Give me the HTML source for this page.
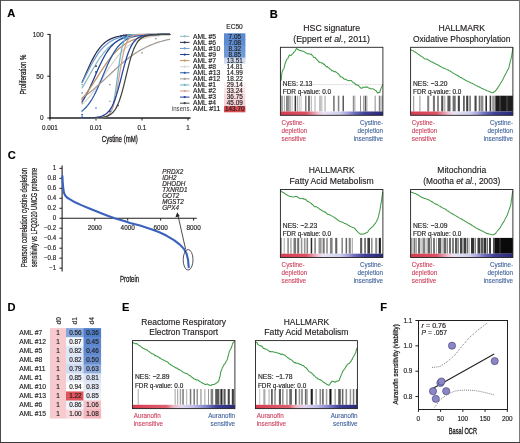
<!DOCTYPE html>
<html><head><meta charset="utf-8"><style>
html,body{margin:0;padding:0;background:#fff;}
svg{display:block;font-family:"Liberation Sans", sans-serif;filter:blur(0.3px);}
</style></head><body>
<svg width="520" height="443" viewBox="0 0 520 443">
<rect x="0" y="0" width="520" height="443" fill="#fff"/>
<rect x="0" y="0" width="520" height="1" fill="#5c5c5c"/>
<rect x="0" y="0" width="1" height="443" fill="#4a4a4a"/>
<rect x="519" y="0" width="1" height="443" fill="#7a7a7a"/>
<rect x="0" y="442" width="520" height="1" fill="#3a3a3a"/>
<text x="7.20" y="17.20" font-size="11.10" font-weight="bold" fill="#000" stroke="#000" stroke-width="0.15">A</text>
<text x="269.70" y="17.80" font-size="11.10" font-weight="bold" fill="#000" stroke="#000" stroke-width="0.15">B</text>
<text x="7.70" y="159.20" font-size="11.10" font-weight="bold" fill="#000" stroke="#000" stroke-width="0.15">C</text>
<text x="7.40" y="310.60" font-size="11.10" font-weight="bold" fill="#000" stroke="#000" stroke-width="0.15">D</text>
<text x="122.00" y="310.60" font-size="11.10" font-weight="bold" fill="#000" stroke="#000" stroke-width="0.15">E</text>
<text x="380.30" y="310.70" font-size="11.10" font-weight="bold" fill="#000" stroke="#000" stroke-width="0.15">F</text>
<line x1="50.00" y1="34.00" x2="50.00" y2="118.60" stroke="#231f20" stroke-width="1.3"/>
<line x1="49.40" y1="118.00" x2="190.50" y2="118.00" stroke="#231f20" stroke-width="1.3"/>
<line x1="47.30" y1="34.40" x2="50.00" y2="34.40" stroke="#231f20" stroke-width="1"/>
<text x="43.60" y="36.70" font-size="7.15" text-anchor="end" fill="#231f20" stroke="#231f20" stroke-width="0.17" textLength="10.85" lengthAdjust="spacingAndGlyphs">100</text>
<line x1="47.30" y1="76.20" x2="50.00" y2="76.20" stroke="#231f20" stroke-width="1"/>
<text x="43.60" y="78.50" font-size="7.15" text-anchor="end" fill="#231f20" stroke="#231f20" stroke-width="0.17" textLength="7.23" lengthAdjust="spacingAndGlyphs">50</text>
<line x1="47.30" y1="118.00" x2="50.00" y2="118.00" stroke="#231f20" stroke-width="1"/>
<text x="43.60" y="120.30" font-size="7.15" text-anchor="end" fill="#231f20" stroke="#231f20" stroke-width="0.17" textLength="3.62" lengthAdjust="spacingAndGlyphs">0</text>
<line x1="50.00" y1="118.00" x2="50.00" y2="120.50" stroke="#231f20" stroke-width="1"/>
<text x="50.00" y="129.80" font-size="6.93" text-anchor="middle" fill="#231f20" stroke="#231f20" stroke-width="0.17" textLength="15.77" lengthAdjust="spacingAndGlyphs">0.001</text>
<line x1="96.00" y1="118.00" x2="96.00" y2="120.50" stroke="#231f20" stroke-width="1"/>
<text x="96.00" y="129.80" font-size="6.93" text-anchor="middle" fill="#231f20" stroke="#231f20" stroke-width="0.17" textLength="12.26" lengthAdjust="spacingAndGlyphs">0.01</text>
<line x1="142.00" y1="118.00" x2="142.00" y2="120.50" stroke="#231f20" stroke-width="1"/>
<text x="142.00" y="129.80" font-size="6.93" text-anchor="middle" fill="#231f20" stroke="#231f20" stroke-width="0.17" textLength="8.76" lengthAdjust="spacingAndGlyphs">0.1</text>
<line x1="188.00" y1="118.00" x2="188.00" y2="120.50" stroke="#231f20" stroke-width="1"/>
<text x="188.00" y="129.80" font-size="6.93" text-anchor="middle" fill="#231f20" stroke="#231f20" stroke-width="0.17" textLength="3.50" lengthAdjust="spacingAndGlyphs">1</text>
<text x="119.80" y="142.30" font-size="8.30" text-anchor="middle" fill="#231f20" stroke="#231f20" stroke-width="0.3" textLength="36.00" lengthAdjust="spacingAndGlyphs">Cystine (mM)</text>
<text transform="translate(25.9,74.5) rotate(-90)" font-size="8.2" text-anchor="middle" fill="#231f20" stroke="#231f20" stroke-width="0.28" textLength="40" lengthAdjust="spacingAndGlyphs">Proliferation %</text>
<polyline points="82.15,87.84 83.64,85.36 85.12,82.82 86.60,80.23 88.09,77.60 89.57,74.96 91.06,72.33 92.54,69.74 94.02,67.19 95.51,64.71 96.99,62.31 98.47,60.02 99.96,57.83 101.44,55.76 102.93,53.82 104.41,52.00 105.89,50.31 107.38,48.74 108.86,47.31 110.34,45.99 111.83,44.78 113.31,43.69 114.80,42.70 116.28,41.80 117.76,40.99 119.25,40.26 120.73,39.61 122.21,39.03 123.70,38.51 125.18,38.04 126.67,37.62 128.15,37.26 129.63,36.93 131.12,36.64 132.60,36.38 134.08,36.15 135.57,35.94 137.05,35.76 138.54,35.60 140.02,35.46 141.50,35.34 142.99,35.23 144.47,35.13 145.95,35.04 147.44,34.97 148.92,34.90 150.41,34.84 151.89,34.79 153.37,34.74 154.86,34.70 156.34,34.67 157.82,34.64 159.31,34.61 160.79,34.58 162.28,34.56 163.76,34.54 165.24,34.53 166.73,34.51 168.21,34.50 169.69,34.49" fill="none" stroke="#8fb9c0" stroke-width="1.25" stroke-linejoin="round" stroke-linecap="round"/>
<polyline points="82.15,82.18 83.64,78.81 85.12,75.39 86.60,71.99 88.09,68.65 89.57,65.40 91.06,62.29 92.54,59.34 94.02,56.57 95.51,54.02 96.99,51.67 98.47,49.54 99.96,47.62 101.44,45.90 102.93,44.37 104.41,43.02 105.89,41.84 107.38,40.80 108.86,39.90 110.34,39.12 111.83,38.44 113.31,37.86 114.80,37.36 116.28,36.92 117.76,36.55 119.25,36.24 120.73,35.96 122.21,35.73 123.70,35.53 125.18,35.36 126.67,35.22 128.15,35.10 129.63,34.99 131.12,34.90 132.60,34.83 134.08,34.76 135.57,34.71 137.05,34.66 138.54,34.62 140.02,34.59 141.50,34.56 142.99,34.54 144.47,34.52 145.95,34.50 147.44,34.48 148.92,34.47 150.41,34.46 151.89,34.45 153.37,34.44 154.86,34.44 156.34,34.43 157.82,34.43 159.31,34.42 160.79,34.42 162.28,34.42 163.76,34.41 165.24,34.41 166.73,34.41 168.21,34.41 169.69,34.41" fill="none" stroke="#2b2f4e" stroke-width="1.25" stroke-linejoin="round" stroke-linecap="round"/>
<polyline points="82.15,82.72 83.64,79.81 85.12,76.87 86.60,73.93 88.09,71.00 89.57,68.13 91.06,65.33 92.54,62.64 94.02,60.06 95.51,57.62 96.99,55.33 98.47,53.19 99.96,51.22 101.44,49.40 102.93,47.74 104.41,46.24 105.89,44.87 107.38,43.65 108.86,42.55 110.34,41.57 111.83,40.70 113.31,39.92 114.80,39.24 116.28,38.63 117.76,38.10 119.25,37.63 120.73,37.22 122.21,36.86 123.70,36.55 125.18,36.27 126.67,36.03 128.15,35.82 129.63,35.63 131.12,35.47 132.60,35.33 134.08,35.21 135.57,35.11 137.05,35.01 138.54,34.93 140.02,34.86 141.50,34.80 142.99,34.75 144.47,34.70 145.95,34.66 147.44,34.63 148.92,34.60 150.41,34.57 151.89,34.55 153.37,34.53 154.86,34.51 156.34,34.50 157.82,34.49 159.31,34.47 160.79,34.46 162.28,34.46 163.76,34.45 165.24,34.44 166.73,34.44 168.21,34.43 169.69,34.43" fill="none" stroke="#6d9ed6" stroke-width="1.25" stroke-linejoin="round" stroke-linecap="round"/>
<polyline points="82.15,101.62 83.64,99.36 85.12,96.89 86.60,94.21 88.09,91.33 89.57,88.28 91.06,85.08 92.54,81.77 94.02,78.39 95.51,74.98 96.99,71.58 98.47,68.25 99.96,65.01 101.44,61.92 102.93,58.99 104.41,56.25 105.89,53.72 107.38,51.40 108.86,49.29 110.34,47.40 111.83,45.70 113.31,44.20 114.80,42.87 116.28,41.70 117.76,40.69 119.25,39.80 120.73,39.03 122.21,38.37 123.70,37.79 125.18,37.30 126.67,36.87 128.15,36.51 129.63,36.20 131.12,35.93 132.60,35.71 134.08,35.51 135.57,35.35 137.05,35.20 138.54,35.08 140.02,34.98 141.50,34.89 142.99,34.82 144.47,34.76 145.95,34.70 147.44,34.66 148.92,34.62 150.41,34.59 151.89,34.56 153.37,34.53 154.86,34.51 156.34,34.50 157.82,34.48 159.31,34.47 160.79,34.46 162.28,34.45 163.76,34.44 165.24,34.44 166.73,34.43 168.21,34.43 169.69,34.42" fill="none" stroke="#1d3f8f" stroke-width="1.25" stroke-linejoin="round" stroke-linecap="round"/>
<polyline points="82.15,98.39 83.64,96.67 85.12,94.85 86.60,92.94 88.09,90.94 89.57,88.87 91.06,86.72 92.54,84.51 94.02,82.25 95.51,79.95 96.99,77.63 98.47,75.31 99.96,72.98 101.44,70.68 102.93,68.41 104.41,66.19 105.89,64.03 107.38,61.93 108.86,59.91 110.34,57.98 111.83,56.14 113.31,54.40 114.80,52.75 116.28,51.21 117.76,49.76 119.25,48.41 120.73,47.16 122.21,46.00 123.70,44.93 125.18,43.95 126.67,43.05 128.15,42.22 129.63,41.47 131.12,40.78 132.60,40.15 134.08,39.58 135.57,39.07 137.05,38.60 138.54,38.18 140.02,37.80 141.50,37.45 142.99,37.14 144.47,36.86 145.95,36.61 147.44,36.38 148.92,36.18 150.41,35.99 151.89,35.83 153.37,35.68 154.86,35.55 156.34,35.43 157.82,35.32 159.31,35.22 160.79,35.14 162.28,35.06 163.76,34.99 165.24,34.93 166.73,34.87 168.21,34.82 169.69,34.78" fill="none" stroke="#c4915e" stroke-width="1.25" stroke-linejoin="round" stroke-linecap="round"/>
<polyline points="82.15,104.28 83.64,102.95 85.12,101.53 86.60,100.01 88.09,98.38 89.57,96.66 91.06,94.84 92.54,92.93 94.02,90.93 95.51,88.86 96.99,86.71 98.47,84.50 99.96,82.24 101.44,79.94 102.93,77.62 104.41,75.29 105.89,72.97 107.38,70.67 108.86,68.40 110.34,66.18 111.83,64.02 113.31,61.92 114.80,59.91 116.28,57.97 117.76,56.14 119.25,54.39 120.73,52.75 122.21,51.20 123.70,49.76 125.18,48.41 126.67,47.16 128.15,46.00 129.63,44.93 131.12,43.95 132.60,43.04 134.08,42.22 135.57,41.46 137.05,40.78 138.54,40.15 140.02,39.58 141.50,39.07 142.99,38.60 144.47,38.18 145.95,37.79 147.44,37.45 148.92,37.14 150.41,36.86 151.89,36.61 153.37,36.38 154.86,36.17 156.34,35.99 157.82,35.83 159.31,35.68 160.79,35.55 162.28,35.43 163.76,35.32 165.24,35.22 166.73,35.14 168.21,35.06 169.69,34.99" fill="none" stroke="#d9d6d2" stroke-width="1.25" stroke-linejoin="round" stroke-linecap="round"/>
<polyline points="82.15,110.84 83.64,109.64 85.12,108.26 86.60,106.70 88.09,104.92 89.57,102.92 91.06,100.70 92.54,98.23 94.02,95.54 95.51,92.63 96.99,89.51 98.47,86.22 99.96,82.80 101.44,79.28 102.93,75.71 104.41,72.15 105.89,68.65 107.38,65.26 108.86,62.02 110.34,58.95 111.83,56.10 113.31,53.47 114.80,51.07 116.28,48.91 117.76,46.97 119.25,45.25 120.73,43.74 122.21,42.41 123.70,41.26 125.18,40.26 126.67,39.39 128.15,38.65 129.63,38.01 131.12,37.46 132.60,37.00 134.08,36.60 135.57,36.26 137.05,35.98 138.54,35.73 140.02,35.53 141.50,35.35 142.99,35.20 144.47,35.08 145.95,34.97 147.44,34.88 148.92,34.81 150.41,34.74 151.89,34.69 153.37,34.64 154.86,34.61 156.34,34.57 157.82,34.55 159.31,34.52 160.79,34.50 162.28,34.49 163.76,34.47 165.24,34.46 166.73,34.45 168.21,34.44 169.69,34.44" fill="none" stroke="#2a5aa8" stroke-width="1.25" stroke-linejoin="round" stroke-linecap="round"/>
<polyline points="82.15,98.09 83.64,97.06 85.12,95.99 86.60,94.89 88.09,93.76 89.57,92.59 91.06,91.39 92.54,90.17 94.02,88.91 95.51,87.63 96.99,86.33 98.47,85.00 99.96,83.66 101.44,82.30 102.93,80.92 104.41,79.54 105.89,78.15 107.38,76.75 108.86,75.36 110.34,73.96 111.83,72.57 113.31,71.19 114.80,69.82 116.28,68.46 117.76,67.12 119.25,65.80 120.73,64.50 122.21,63.22 123.70,61.98 125.18,60.75 126.67,59.56 128.15,58.40 129.63,57.28 131.12,56.18 132.60,55.12 134.08,54.10 135.57,53.11 137.05,52.16 138.54,51.24 140.02,50.36 141.50,49.51 142.99,48.70 144.47,47.93 145.95,47.19 147.44,46.48 148.92,45.81 150.41,45.16 151.89,44.55 153.37,43.97 154.86,43.42 156.34,42.89 157.82,42.40 159.31,41.93 160.79,41.48 162.28,41.06 163.76,40.66 165.24,40.29 166.73,39.93 168.21,39.59 169.69,39.28" fill="none" stroke="#a39a93" stroke-width="1.25" stroke-linejoin="round" stroke-linecap="round"/>
<polyline points="82.15,118.00 83.64,118.00 85.12,118.00 86.60,118.00 88.09,118.00 89.57,118.00 91.06,118.00 92.54,117.99 94.02,117.99 95.51,117.98 96.99,117.96 98.47,117.94 99.96,117.89 101.44,117.80 102.93,117.66 104.41,117.40 105.89,116.96 107.38,116.20 108.86,114.91 110.34,112.75 111.83,109.25 113.31,103.83 114.80,96.04 116.28,85.94 117.76,74.48 119.25,63.28 120.73,53.81 122.21,46.74 123.70,41.95 125.18,38.90 126.67,37.04 128.15,35.93 129.63,35.28 131.12,34.91 132.60,34.69 134.08,34.57 135.57,34.50 137.05,34.46 138.54,34.43 140.02,34.42 141.50,34.41 142.99,34.41 144.47,34.40 145.95,34.40 147.44,34.40 148.92,34.40 150.41,34.40 151.89,34.40 153.37,34.40 154.86,34.40 156.34,34.40 157.82,34.40 159.31,34.40 160.79,34.40 162.28,34.40 163.76,34.40 165.24,34.40 166.73,34.40 168.21,34.40 169.69,34.40" fill="none" stroke="#6fb6c2" stroke-width="1.25" stroke-linejoin="round" stroke-linecap="round"/>
<polyline points="82.15,118.00 83.64,118.00 85.12,118.00 86.60,118.00 88.09,117.99 89.57,117.99 91.06,117.98 92.54,117.97 94.02,117.96 95.51,117.93 96.99,117.90 98.47,117.84 99.96,117.75 101.44,117.60 102.93,117.38 104.41,117.04 105.89,116.51 107.38,115.69 108.86,114.45 110.34,112.59 111.83,109.85 113.31,105.93 114.80,100.57 116.28,93.63 117.76,85.30 119.25,76.14 120.73,66.98 122.21,58.66 123.70,51.75 125.18,46.41 126.67,42.51 128.15,39.78 129.63,37.93 131.12,36.69 132.60,35.88 134.08,35.36 135.57,35.01 137.05,34.79 138.54,34.65 140.02,34.56 141.50,34.50 142.99,34.47 144.47,34.44 145.95,34.43 147.44,34.42 148.92,34.41 150.41,34.41 151.89,34.40 153.37,34.40 154.86,34.40 156.34,34.40 157.82,34.40 159.31,34.40 160.79,34.40 162.28,34.40 163.76,34.40 165.24,34.40 166.73,34.40 168.21,34.40 169.69,34.40" fill="none" stroke="#d3a08e" stroke-width="1.25" stroke-linejoin="round" stroke-linecap="round"/>
<polyline points="82.15,117.95 83.64,117.94 85.12,117.92 86.60,117.89 88.09,117.86 89.57,117.81 91.06,117.75 92.54,117.67 94.02,117.56 95.51,117.42 96.99,117.23 98.47,116.98 99.96,116.66 101.44,116.23 102.93,115.67 104.41,114.93 105.89,113.98 107.38,112.75 108.86,111.18 110.34,109.19 111.83,106.71 113.31,103.66 114.80,99.99 116.28,95.68 117.76,90.78 119.25,85.36 120.73,79.61 122.21,73.72 123.70,67.93 125.18,62.45 126.67,57.46 128.15,53.05 129.63,49.28 131.12,46.14 132.60,43.57 134.08,41.50 135.57,39.87 137.05,38.59 138.54,37.60 140.02,36.84 141.50,36.25 142.99,35.80 144.47,35.46 145.95,35.20 147.44,35.01 148.92,34.86 150.41,34.75 151.89,34.66 153.37,34.60 154.86,34.55 156.34,34.51 157.82,34.48 159.31,34.46 160.79,34.45 162.28,34.44 163.76,34.43 165.24,34.42 166.73,34.42 168.21,34.41 169.69,34.41" fill="none" stroke="#2442a0" stroke-width="1.25" stroke-linejoin="round" stroke-linecap="round"/>
<polyline points="82.15,117.99 83.64,117.98 85.12,117.98 86.60,117.97 88.09,117.96 89.57,117.94 91.06,117.92 92.54,117.90 94.02,117.86 95.51,117.82 96.99,117.75 98.47,117.67 99.96,117.55 101.44,117.40 102.93,117.19 104.41,116.92 105.89,116.55 107.38,116.06 108.86,115.41 110.34,114.55 111.83,113.42 113.31,111.95 114.80,110.05 116.28,107.64 117.76,104.63 119.25,100.95 120.73,96.56 122.21,91.50 123.70,85.86 125.18,79.81 126.67,73.62 128.15,67.53 129.63,61.81 131.12,56.64 132.60,52.14 134.08,48.34 135.57,45.22 137.05,42.71 138.54,40.74 140.02,39.20 141.50,38.02 142.99,37.12 144.47,36.44 145.95,35.92 147.44,35.54 148.92,35.25 150.41,35.03 151.89,34.87 153.37,34.75 154.86,34.66 156.34,34.59 157.82,34.54 159.31,34.51 160.79,34.48 162.28,34.46 163.76,34.44 165.24,34.43 166.73,34.42 168.21,34.42 169.69,34.41" fill="none" stroke="#3f4640" stroke-width="1.25" stroke-linejoin="round" stroke-linecap="round"/>
<circle cx="82.15" cy="84.56" r="0.9" fill="#8fb9c0"/>
<circle cx="82.15" cy="92.92" r="0.9" fill="#6d9ed6"/>
<circle cx="82.15" cy="99.61" r="0.9" fill="#c4915e"/>
<circle cx="82.15" cy="102.95" r="0.9" fill="#a39a93"/>
<circle cx="82.15" cy="111.31" r="0.9" fill="#6fb6c2"/>
<circle cx="82.15" cy="114.66" r="0.9" fill="#2a5aa8"/>
<circle cx="82.15" cy="117.16" r="0.9" fill="#2442a0"/>
<circle cx="96.00" cy="66.17" r="0.9" fill="#2b2f4e"/>
<circle cx="96.00" cy="72.02" r="0.9" fill="#1d3f8f"/>
<circle cx="96.00" cy="107.97" r="0.9" fill="#6d9ed6"/>
<circle cx="109.85" cy="101.28" r="0.9" fill="#8fb9c0"/>
<circle cx="109.85" cy="111.31" r="0.9" fill="#2442a0"/>
<circle cx="121.03" cy="36.07" r="0.9" fill="#2b2f4e"/>
<circle cx="123.69" cy="35.24" r="0.9" fill="#1d3f8f"/>
<circle cx="126.05" cy="35.24" r="0.9" fill="#2b2f4e"/>
<circle cx="117.95" cy="105.46" r="0.9" fill="#3f4640"/>
<circle cx="109.85" cy="84.56" r="0.9" fill="#a39a93"/>
<circle cx="142.00" cy="52.79" r="0.9" fill="#a39a93"/>
<circle cx="155.85" cy="38.58" r="0.9" fill="#a39a93"/>
<circle cx="123.69" cy="37.74" r="0.9" fill="#6d9ed6"/>
<text x="234.50" y="29.30" font-size="7.26" text-anchor="middle" fill="#231f20" stroke="#231f20" stroke-width="0.17" textLength="16.51" lengthAdjust="spacingAndGlyphs">EC50</text>
<rect x="224" y="33.26" width="21.4" height="6.78" fill="#5b8bd0"/>
<rect x="224" y="39.34" width="21.4" height="6.78" fill="#5b8bd0"/>
<rect x="224" y="45.42" width="21.4" height="6.78" fill="#6a96d4"/>
<rect x="224" y="51.50" width="21.4" height="6.78" fill="#6f9ad6"/>
<rect x="224" y="57.58" width="21.4" height="6.78" fill="#cfdcf0"/>
<rect x="224" y="63.66" width="21.4" height="6.78" fill="#ffffff"/>
<rect x="224" y="69.74" width="21.4" height="6.78" fill="#ffffff"/>
<rect x="224" y="75.82" width="21.4" height="6.78" fill="#ffffff"/>
<rect x="224" y="81.90" width="21.4" height="6.78" fill="#fcf0f1"/>
<rect x="224" y="87.98" width="21.4" height="6.78" fill="#f9e3e5"/>
<rect x="224" y="94.06" width="21.4" height="6.78" fill="#f7dadd"/>
<rect x="224" y="100.14" width="21.4" height="6.78" fill="#f5d2d6"/>
<rect x="224" y="106.22" width="21.4" height="6.08" fill="#d8484f"/>
<line x1="180.00" y1="36.30" x2="189.50" y2="36.30" stroke="#8fb9c0" stroke-width="1"/>
<circle cx="184.7" cy="36.30" r="1.1" fill="#8fb9c0"/>
<text x="193.00" y="38.50" font-size="6.93" fill="#231f20" stroke="#231f20" stroke-width="0.17" textLength="23.00" lengthAdjust="spacingAndGlyphs">AML #5</text>
<text x="234.80" y="38.50" font-size="7.04" text-anchor="middle" fill="#231f20" stroke="#231f20" stroke-width="0.17" textLength="12.46" lengthAdjust="spacingAndGlyphs">7.05</text>
<line x1="180.00" y1="42.38" x2="189.50" y2="42.38" stroke="#2b2f4e" stroke-width="1"/>
<circle cx="184.7" cy="42.38" r="1.1" fill="#2b2f4e"/>
<text x="193.00" y="44.58" font-size="6.93" fill="#231f20" stroke="#231f20" stroke-width="0.17" textLength="23.00" lengthAdjust="spacingAndGlyphs">AML #6</text>
<text x="234.80" y="44.58" font-size="7.04" text-anchor="middle" fill="#231f20" stroke="#231f20" stroke-width="0.17" textLength="12.46" lengthAdjust="spacingAndGlyphs">7.08</text>
<line x1="180.00" y1="48.46" x2="189.50" y2="48.46" stroke="#6d9ed6" stroke-width="1"/>
<circle cx="184.7" cy="48.46" r="1.1" fill="#6d9ed6"/>
<text x="193.00" y="50.66" font-size="6.93" fill="#231f20" stroke="#231f20" stroke-width="0.17" textLength="27.40" lengthAdjust="spacingAndGlyphs">AML #10</text>
<text x="234.80" y="50.66" font-size="7.04" text-anchor="middle" fill="#231f20" stroke="#231f20" stroke-width="0.17" textLength="12.46" lengthAdjust="spacingAndGlyphs">8.32</text>
<line x1="180.00" y1="54.54" x2="189.50" y2="54.54" stroke="#1d3f8f" stroke-width="1"/>
<circle cx="184.7" cy="54.54" r="1.1" fill="#1d3f8f"/>
<text x="193.00" y="56.74" font-size="6.93" fill="#231f20" stroke="#231f20" stroke-width="0.17" textLength="23.00" lengthAdjust="spacingAndGlyphs">AML #9</text>
<text x="234.80" y="56.74" font-size="7.04" text-anchor="middle" fill="#231f20" stroke="#231f20" stroke-width="0.17" textLength="12.46" lengthAdjust="spacingAndGlyphs">8.85</text>
<line x1="180.00" y1="60.62" x2="189.50" y2="60.62" stroke="#c4915e" stroke-width="1"/>
<circle cx="184.7" cy="60.62" r="1.1" fill="#c4915e"/>
<text x="193.00" y="62.82" font-size="6.93" fill="#231f20" stroke="#231f20" stroke-width="0.17" textLength="23.00" lengthAdjust="spacingAndGlyphs">AML #7</text>
<text x="234.80" y="62.82" font-size="7.04" text-anchor="middle" fill="#231f20" stroke="#231f20" stroke-width="0.17" textLength="16.02" lengthAdjust="spacingAndGlyphs">13.51</text>
<line x1="180.00" y1="66.70" x2="189.50" y2="66.70" stroke="#d9d6d2" stroke-width="1"/>
<circle cx="184.7" cy="66.70" r="1.1" fill="#d9d6d2"/>
<text x="193.00" y="68.90" font-size="6.93" fill="#231f20" stroke="#231f20" stroke-width="0.17" textLength="23.00" lengthAdjust="spacingAndGlyphs">AML #8</text>
<text x="234.80" y="68.90" font-size="7.04" text-anchor="middle" fill="#231f20" stroke="#231f20" stroke-width="0.17" textLength="16.02" lengthAdjust="spacingAndGlyphs">14.81</text>
<line x1="180.00" y1="72.78" x2="189.50" y2="72.78" stroke="#2a5aa8" stroke-width="1"/>
<circle cx="184.7" cy="72.78" r="1.1" fill="#2a5aa8"/>
<text x="193.00" y="74.98" font-size="6.93" fill="#231f20" stroke="#231f20" stroke-width="0.17" textLength="27.40" lengthAdjust="spacingAndGlyphs">AML #13</text>
<text x="234.80" y="74.98" font-size="7.04" text-anchor="middle" fill="#231f20" stroke="#231f20" stroke-width="0.17" textLength="16.02" lengthAdjust="spacingAndGlyphs">14.99</text>
<line x1="180.00" y1="78.86" x2="189.50" y2="78.86" stroke="#a39a93" stroke-width="1"/>
<circle cx="184.7" cy="78.86" r="1.1" fill="#a39a93"/>
<text x="193.00" y="81.06" font-size="6.93" fill="#231f20" stroke="#231f20" stroke-width="0.17" textLength="27.40" lengthAdjust="spacingAndGlyphs">AML #12</text>
<text x="234.80" y="81.06" font-size="7.04" text-anchor="middle" fill="#231f20" stroke="#231f20" stroke-width="0.17" textLength="16.02" lengthAdjust="spacingAndGlyphs">18.22</text>
<line x1="180.00" y1="84.94" x2="189.50" y2="84.94" stroke="#6fb6c2" stroke-width="1"/>
<circle cx="184.7" cy="84.94" r="1.1" fill="#6fb6c2"/>
<text x="193.00" y="87.14" font-size="6.93" fill="#231f20" stroke="#231f20" stroke-width="0.17" textLength="23.00" lengthAdjust="spacingAndGlyphs">AML #1</text>
<text x="234.80" y="87.14" font-size="7.04" text-anchor="middle" fill="#231f20" stroke="#231f20" stroke-width="0.17" textLength="16.02" lengthAdjust="spacingAndGlyphs">29.14</text>
<line x1="180.00" y1="91.02" x2="189.50" y2="91.02" stroke="#d3a08e" stroke-width="1"/>
<circle cx="184.7" cy="91.02" r="1.1" fill="#d3a08e"/>
<text x="193.00" y="93.22" font-size="6.93" fill="#231f20" stroke="#231f20" stroke-width="0.17" textLength="23.00" lengthAdjust="spacingAndGlyphs">AML #2</text>
<text x="234.80" y="93.22" font-size="7.04" text-anchor="middle" fill="#231f20" stroke="#231f20" stroke-width="0.17" textLength="16.02" lengthAdjust="spacingAndGlyphs">33.24</text>
<line x1="180.00" y1="97.10" x2="189.50" y2="97.10" stroke="#2442a0" stroke-width="1"/>
<circle cx="184.7" cy="97.10" r="1.1" fill="#2442a0"/>
<text x="193.00" y="99.30" font-size="6.93" fill="#231f20" stroke="#231f20" stroke-width="0.17" textLength="23.00" lengthAdjust="spacingAndGlyphs">AML #3</text>
<text x="234.80" y="99.30" font-size="7.04" text-anchor="middle" fill="#231f20" stroke="#231f20" stroke-width="0.17" textLength="16.02" lengthAdjust="spacingAndGlyphs">36.75</text>
<line x1="180.00" y1="103.18" x2="189.50" y2="103.18" stroke="#3f4640" stroke-width="1"/>
<circle cx="184.7" cy="103.18" r="1.1" fill="#3f4640"/>
<text x="193.00" y="105.38" font-size="6.93" fill="#231f20" stroke="#231f20" stroke-width="0.17" textLength="23.00" lengthAdjust="spacingAndGlyphs">AML #4</text>
<text x="234.80" y="105.38" font-size="7.04" text-anchor="middle" fill="#231f20" stroke="#231f20" stroke-width="0.17" textLength="16.02" lengthAdjust="spacingAndGlyphs">45.09</text>
<text x="193.00" y="111.46" font-size="6.93" fill="#231f20" stroke="#231f20" stroke-width="0.17" textLength="27.40" lengthAdjust="spacingAndGlyphs">AML #11</text>
<text x="234.80" y="111.46" font-size="7.04" text-anchor="middle" fill="#231f20" stroke="#231f20" stroke-width="0.17" textLength="19.58" lengthAdjust="spacingAndGlyphs">143.70</text>
<text x="191.20" y="111.46" font-size="6.71" text-anchor="end" fill="#3a3a3a" textLength="19.33" lengthAdjust="spacingAndGlyphs">insens.</text>
<text x="331.65" y="31.20" font-size="9.62" text-anchor="middle" fill="#231f20" stroke="#231f20" stroke-width="0.17" textLength="56.80" lengthAdjust="spacingAndGlyphs">HSC signature</text>
<text x="331.65" y="41.60" font-size="9.62" text-anchor="middle" fill="#231f20" stroke="#231f20" stroke-width="0.17" textLength="76.70" lengthAdjust="spacingAndGlyphs">(Eppert <tspan font-style="italic">et al.</tspan>, 2011)</text>
<rect x="280.60" y="95.70" width="1.00" height="15.80" fill="rgb(100,100,100)"/>
<rect x="282.20" y="95.70" width="0.80" height="15.80" fill="rgb(150,150,150)"/>
<rect x="283.80" y="95.70" width="1.20" height="15.80" fill="rgb(180,180,180)"/>
<rect x="286.00" y="95.70" width="1.00" height="15.80" fill="rgb(130,130,130)"/>
<rect x="287.30" y="95.70" width="1.20" height="15.80" fill="rgb(90,90,90)"/>
<rect x="288.60" y="95.70" width="0.90" height="15.80" fill="rgb(110,110,110)"/>
<rect x="290.30" y="95.70" width="0.80" height="15.80" fill="rgb(150,150,150)"/>
<rect x="291.80" y="95.70" width="0.80" height="15.80" fill="rgb(185,185,185)"/>
<rect x="294.60" y="95.70" width="1.50" height="15.80" fill="rgb(50,50,50)"/>
<rect x="297.20" y="95.70" width="1.00" height="15.80" fill="rgb(150,150,150)"/>
<rect x="299.00" y="95.70" width="0.80" height="15.80" fill="rgb(200,200,200)"/>
<rect x="300.60" y="95.70" width="0.90" height="15.80" fill="rgb(185,185,185)"/>
<rect x="305.00" y="95.70" width="1.50" height="15.80" fill="rgb(130,130,130)"/>
<rect x="308.00" y="95.70" width="1.00" height="15.80" fill="rgb(110,110,110)"/>
<rect x="309.20" y="95.70" width="0.90" height="15.80" fill="rgb(90,90,90)"/>
<rect x="311.00" y="95.70" width="1.00" height="15.80" fill="rgb(190,190,190)"/>
<rect x="314.30" y="95.70" width="1.50" height="15.80" fill="rgb(200,200,200)"/>
<rect x="319.50" y="95.70" width="1.00" height="15.80" fill="rgb(130,130,130)"/>
<rect x="321.40" y="95.70" width="0.90" height="15.80" fill="rgb(170,170,170)"/>
<rect x="324.30" y="95.70" width="1.50" height="15.80" fill="rgb(190,190,190)"/>
<rect x="333.10" y="95.70" width="1.60" height="15.80" fill="rgb(120,120,120)"/>
<rect x="337.80" y="95.70" width="1.50" height="15.80" fill="rgb(130,130,130)"/>
<rect x="342.50" y="95.70" width="1.50" height="15.80" fill="rgb(90,90,90)"/>
<rect x="352.80" y="95.70" width="1.40" height="15.80" fill="rgb(140,140,140)"/>
<rect x="354.40" y="95.70" width="1.00" height="15.80" fill="rgb(170,170,170)"/>
<rect x="360.00" y="95.70" width="1.00" height="15.80" fill="rgb(140,140,140)"/>
<rect x="363.20" y="95.70" width="1.10" height="15.80" fill="rgb(150,150,150)"/>
<rect x="364.80" y="95.70" width="1.50" height="15.80" fill="rgb(90,90,90)"/>
<rect x="366.50" y="95.70" width="0.90" height="15.80" fill="rgb(160,160,160)"/>
<rect x="374.60" y="95.70" width="1.10" height="15.80" fill="rgb(150,150,150)"/>
<rect x="378.80" y="95.70" width="1.20" height="15.80" fill="rgb(130,130,130)"/>
<rect x="380.30" y="95.70" width="0.70" height="15.80" fill="rgb(170,170,170)"/>
<rect x="381.60" y="95.70" width="0.80" height="15.80" fill="rgb(120,120,120)"/>
<defs><linearGradient id="g1" x1="0" x2="1" y1="0" y2="0"><stop offset="0" stop-color="#d43c50"/><stop offset="0.25" stop-color="#dc5264"/><stop offset="0.29" stop-color="#e07888"/><stop offset="0.37" stop-color="#f0c4d4"/><stop offset="0.42" stop-color="#e8e4f4"/><stop offset="0.58" stop-color="#d0d0ee"/><stop offset="0.65" stop-color="#a8a8dc"/><stop offset="0.72" stop-color="#7070c0"/><stop offset="0.82" stop-color="#404098"/><stop offset="1" stop-color="#282878"/></linearGradient></defs>
<rect x="280.40" y="111.50" width="102.50" height="3.80" fill="url(#g1)"/>
<line x1="280.40" y1="84.60" x2="382.90" y2="84.60" stroke="#b8b8b8" stroke-width="0.6" stroke-dasharray="1,0.6"/>
<polyline points="280.60,81.00 281.10,80.04 281.20,79.06 281.30,79.24 281.40,77.76 281.50,76.07 281.60,75.46 281.70,74.66 281.80,74.04 281.90,72.82 282.00,72.55 282.10,71.62 282.20,71.58 282.70,70.46 283.20,69.35 283.70,68.82 284.20,67.91 284.45,66.18 284.70,65.47 284.95,64.00 285.20,63.60 285.75,61.91 286.30,60.84 286.70,59.53 287.10,58.91 287.50,58.67 288.13,58.07 288.77,56.55 289.40,54.97 291.00,55.57 291.75,54.69 292.50,53.90 293.02,53.65 293.55,52.31 294.08,52.13 294.60,51.84 295.30,50.74 296.00,49.30 296.70,48.39 297.60,49.47 298.50,49.64 299.65,50.54 300.80,50.74 301.90,50.89 303.00,51.13 304.00,51.62 305.00,52.21 306.00,52.92 307.00,53.67 308.00,53.69 308.80,53.62 309.60,53.93 310.40,54.21 311.20,54.10 311.96,55.15 312.72,55.63 313.48,57.32 314.24,57.45 315.00,57.34 315.75,58.41 316.50,59.12 317.25,60.19 318.00,60.75 318.75,62.12 319.50,62.02 320.29,62.55 321.07,62.78 321.86,63.11 322.64,62.99 323.43,64.18 324.21,64.07 325.00,65.15 325.82,66.07 326.63,66.83 327.45,66.61 328.27,67.79 329.08,68.04 329.90,68.92 330.75,69.27 331.60,70.75 332.45,70.69 333.30,71.02 334.15,71.66 335.00,71.45 335.88,72.00 336.77,72.65 337.65,73.48 338.53,73.91 339.42,75.36 340.30,76.51 341.08,77.02 341.87,76.95 342.65,77.39 343.43,78.51 344.22,79.22 345.00,79.33 345.81,79.06 346.63,79.85 347.44,80.36 348.26,80.54 349.07,80.74 349.89,80.51 350.70,80.50 351.58,80.81 352.47,81.92 353.35,82.75 354.23,83.04 355.12,83.63 356.00,84.94 356.85,84.75 357.70,85.20 358.55,85.31 359.40,87.04 360.25,87.20 361.10,88.33 362.07,88.13 363.03,87.26 364.00,87.22 365.10,87.09 366.20,87.11 367.30,86.97 368.20,87.66 369.10,88.26 370.00,88.22 370.88,88.95 371.75,88.83 372.62,88.67 373.50,89.14 374.34,89.59 375.18,90.21 376.02,90.63 376.86,92.02 377.70,93.11 378.75,92.20 379.80,92.36 380.13,91.24 380.47,89.92 380.80,88.65 381.13,88.20 381.47,87.35 381.80,86.65 382.50,85.00" fill="none" stroke="#3f9c46" stroke-width="1.05" stroke-linejoin="round" stroke-linecap="round"/>
<rect x="280.40" y="47.30" width="102.50" height="68.00" fill="none" stroke="#231f20" stroke-width="0.9"/>
<text x="282.80" y="85.70" font-size="7.04" fill="#231f20" stroke="#231f20" stroke-width="0.17" textLength="29.57" lengthAdjust="spacingAndGlyphs">NES: 2.13</text>
<text x="282.80" y="94.20" font-size="7.04" fill="#231f20" stroke="#231f20" stroke-width="0.17" textLength="48.38" lengthAdjust="spacingAndGlyphs">FDR q-value: 0.0</text>
<text x="281.60" y="124.90" font-size="6.93" fill="#cc3d5a" stroke="#cc3d5a" stroke-width="0.1" textLength="23.11" lengthAdjust="spacingAndGlyphs">Cystine-</text>
<text x="281.60" y="132.70" font-size="6.93" fill="#cc3d5a" stroke="#cc3d5a" stroke-width="0.1" textLength="25.57" lengthAdjust="spacingAndGlyphs">depletion</text>
<text x="281.60" y="140.50" font-size="6.93" fill="#cc3d5a" stroke="#cc3d5a" stroke-width="0.1" textLength="24.51" lengthAdjust="spacingAndGlyphs">sensitive</text>
<text x="383.10" y="124.90" font-size="6.93" text-anchor="end" fill="#3b5f98" stroke="#3b5f98" stroke-width="0.1" textLength="23.11" lengthAdjust="spacingAndGlyphs">Cystine-</text>
<text x="383.10" y="132.70" font-size="6.93" text-anchor="end" fill="#3b5f98" stroke="#3b5f98" stroke-width="0.1" textLength="25.57" lengthAdjust="spacingAndGlyphs">depletion</text>
<text x="383.10" y="140.50" font-size="6.93" text-anchor="end" fill="#3b5f98" stroke="#3b5f98" stroke-width="0.1" textLength="29.42" lengthAdjust="spacingAndGlyphs">insensitive</text>
<text x="461.75" y="31.20" font-size="9.62" text-anchor="middle" fill="#231f20" stroke="#231f20" stroke-width="0.17" textLength="46.50" lengthAdjust="spacingAndGlyphs">HALLMARK</text>
<text x="461.75" y="41.60" font-size="9.62" text-anchor="middle" fill="#231f20" stroke="#231f20" stroke-width="0.17" textLength="97.40" lengthAdjust="spacingAndGlyphs">Oxidative Phosphorylation</text>
<rect x="413.20" y="95.70" width="1.00" height="15.80" fill="rgb(140,140,140)"/>
<rect x="419.40" y="95.70" width="1.00" height="15.80" fill="rgb(150,150,150)"/>
<rect x="427.20" y="95.70" width="2.00" height="15.80" fill="rgb(130,130,130)"/>
<rect x="432.90" y="95.70" width="2.10" height="15.80" fill="rgb(120,120,120)"/>
<rect x="437.00" y="95.70" width="2.00" height="15.80" fill="rgb(140,140,140)"/>
<rect x="441.20" y="95.70" width="2.10" height="15.80" fill="rgb(80,80,80)"/>
<rect x="444.30" y="95.70" width="1.00" height="15.80" fill="rgb(150,150,150)"/>
<rect x="447.40" y="95.70" width="3.10" height="15.80" fill="rgb(90,90,90)"/>
<rect x="452.60" y="95.70" width="3.10" height="15.80" fill="rgb(110,110,110)"/>
<rect x="457.80" y="95.70" width="2.10" height="15.80" fill="rgb(70,70,70)"/>
<rect x="463.10" y="95.70" width="1.60" height="15.80" fill="rgb(80,80,80)"/>
<rect x="466.20" y="95.70" width="2.10" height="15.80" fill="rgb(60,60,60)"/>
<rect x="469.30" y="95.70" width="1.60" height="15.80" fill="rgb(120,120,120)"/>
<rect x="474.50" y="95.70" width="2.10" height="15.80" fill="rgb(70,70,70)"/>
<rect x="478.70" y="95.70" width="1.80" height="15.80" fill="rgb(110,110,110)"/>
<rect x="481.00" y="95.70" width="2.40" height="15.80" fill="rgb(140,140,140)"/>
<rect x="485.40" y="95.70" width="1.60" height="15.80" fill="rgb(50,50,50)"/>
<rect x="489.60" y="95.70" width="1.60" height="15.80" fill="rgb(60,60,60)"/>
<rect x="492.20" y="95.70" width="2.60" height="15.80" fill="rgb(150,150,150)"/>
<rect x="495.30" y="95.70" width="3.70" height="15.80" fill="rgb(30,30,30)"/>
<rect x="499.00" y="95.70" width="2.00" height="15.80" fill="rgb(60,60,60)"/>
<rect x="501.00" y="95.70" width="5.00" height="15.80" fill="rgb(25,25,25)"/>
<rect x="506.00" y="95.70" width="2.00" height="15.80" fill="rgb(55,55,55)"/>
<rect x="508.00" y="95.70" width="4.90" height="15.80" fill="rgb(30,30,30)"/>
<defs><linearGradient id="g2" x1="0" x2="1" y1="0" y2="0"><stop offset="0" stop-color="#d43c50"/><stop offset="0.25" stop-color="#dc5264"/><stop offset="0.29" stop-color="#e07888"/><stop offset="0.37" stop-color="#f0c4d4"/><stop offset="0.42" stop-color="#e8e4f4"/><stop offset="0.58" stop-color="#d0d0ee"/><stop offset="0.65" stop-color="#a8a8dc"/><stop offset="0.72" stop-color="#7070c0"/><stop offset="0.82" stop-color="#404098"/><stop offset="1" stop-color="#282878"/></linearGradient></defs>
<rect x="410.60" y="111.50" width="102.30" height="3.80" fill="url(#g2)"/>
<polyline points="410.60,49.80 411.47,50.17 412.33,50.53 413.20,50.81 413.94,51.43 414.69,51.77 415.43,52.20 416.17,52.64 416.91,53.13 417.66,53.89 418.40,54.46 419.17,54.84 419.95,55.28 420.73,55.99 421.50,56.35 422.27,56.84 423.05,57.46 423.83,58.13 424.60,58.74 425.44,58.93 426.28,59.08 427.12,59.33 427.96,59.79 428.80,60.19 429.60,60.77 430.40,61.25 431.20,61.74 432.00,61.95 432.80,62.24 433.60,62.72 434.40,63.23 435.20,63.56 436.00,64.19 436.80,64.37 437.60,64.85 438.40,65.20 439.20,65.75 440.06,66.26 440.92,66.65 441.77,67.13 442.63,67.71 443.49,67.98 444.35,68.32 445.21,68.66 446.07,69.12 446.93,69.49 447.78,69.79 448.64,70.44 449.50,70.77 450.30,71.05 451.10,71.75 451.90,72.15 452.70,72.79 453.50,73.44 454.30,73.76 455.10,74.13 455.90,74.81 456.70,75.08 457.50,75.48 458.30,75.97 459.10,76.45 459.90,77.18 460.77,77.60 461.63,77.82 462.50,78.52 463.37,79.01 464.23,79.39 465.10,80.03 465.97,80.47 466.83,80.90 467.70,81.16 468.57,81.56 469.43,82.17 470.30,82.60 471.17,82.92 472.03,83.15 472.90,83.69 473.77,84.15 474.63,84.70 475.50,85.16 476.37,85.64 477.23,86.00 478.10,86.43 478.97,86.76 479.83,87.22 480.70,87.69 481.59,88.14 482.47,88.45 483.36,88.96 484.24,89.37 485.13,89.69 486.01,90.19 486.90,90.74 487.93,91.03 488.97,91.60 490.00,91.94 491.07,92.35 492.13,92.67 493.20,92.71 493.97,91.92 494.73,91.49 495.50,90.88 496.05,90.08 496.60,89.41 497.15,88.68 497.70,87.91 498.25,87.00 498.80,86.41 499.34,85.20 499.88,84.50 500.42,83.53 500.96,82.76 501.50,81.84 502.00,80.97 502.50,80.24 503.00,79.19 503.50,78.03 504.00,77.16 504.50,76.07 504.92,75.31 505.34,74.49 505.76,73.81 506.18,72.94 506.60,72.19 507.02,71.17 507.44,70.44 507.86,69.60 508.28,68.90 508.70,68.30 508.93,67.32 509.17,66.38 509.40,65.22 509.63,64.18 509.87,63.48 510.10,62.25 510.33,61.32 510.57,60.47 510.80,59.64 511.03,58.58 511.27,57.64 511.50,56.77 511.64,55.99 511.79,55.01 511.93,54.01 512.08,53.23 512.22,52.37 512.37,51.31 512.51,50.41 512.66,49.45 512.80,48.50" fill="none" stroke="#3f9c46" stroke-width="1.05" stroke-linejoin="round" stroke-linecap="round"/>
<rect x="410.60" y="47.30" width="102.30" height="68.00" fill="none" stroke="#231f20" stroke-width="0.9"/>
<text x="413.00" y="85.70" font-size="7.04" fill="#231f20" stroke="#231f20" stroke-width="0.17" textLength="34.51" lengthAdjust="spacingAndGlyphs">NES: −3.20</text>
<text x="413.00" y="94.20" font-size="7.04" fill="#231f20" stroke="#231f20" stroke-width="0.17" textLength="48.38" lengthAdjust="spacingAndGlyphs">FDR q-value: 0.0</text>
<text x="411.80" y="124.90" font-size="6.93" fill="#cc3d5a" stroke="#cc3d5a" stroke-width="0.1" textLength="23.11" lengthAdjust="spacingAndGlyphs">Cystine-</text>
<text x="411.80" y="132.70" font-size="6.93" fill="#cc3d5a" stroke="#cc3d5a" stroke-width="0.1" textLength="25.57" lengthAdjust="spacingAndGlyphs">depletion</text>
<text x="411.80" y="140.50" font-size="6.93" fill="#cc3d5a" stroke="#cc3d5a" stroke-width="0.1" textLength="24.51" lengthAdjust="spacingAndGlyphs">sensitive</text>
<text x="513.10" y="124.90" font-size="6.93" text-anchor="end" fill="#3b5f98" stroke="#3b5f98" stroke-width="0.1" textLength="23.11" lengthAdjust="spacingAndGlyphs">Cystine-</text>
<text x="513.10" y="132.70" font-size="6.93" text-anchor="end" fill="#3b5f98" stroke="#3b5f98" stroke-width="0.1" textLength="25.57" lengthAdjust="spacingAndGlyphs">depletion</text>
<text x="513.10" y="140.50" font-size="6.93" text-anchor="end" fill="#3b5f98" stroke="#3b5f98" stroke-width="0.1" textLength="29.42" lengthAdjust="spacingAndGlyphs">insensitive</text>
<text x="331.65" y="173.40" font-size="9.62" text-anchor="middle" fill="#231f20" stroke="#231f20" stroke-width="0.17" textLength="46.00" lengthAdjust="spacingAndGlyphs">HALLMARK</text>
<text x="331.65" y="183.80" font-size="9.62" text-anchor="middle" fill="#231f20" stroke="#231f20" stroke-width="0.17" textLength="84.10" lengthAdjust="spacingAndGlyphs">Fatty Acid Metabolism</text>
<rect x="280.60" y="237.90" width="1.00" height="15.80" fill="rgb(90,90,90)"/>
<rect x="283.70" y="237.90" width="1.00" height="15.80" fill="rgb(170,170,170)"/>
<rect x="287.30" y="237.90" width="1.60" height="15.80" fill="rgb(140,140,140)"/>
<rect x="290.40" y="237.90" width="1.10" height="15.80" fill="rgb(140,140,140)"/>
<rect x="293.50" y="237.90" width="2.60" height="15.80" fill="rgb(120,120,120)"/>
<rect x="297.20" y="237.90" width="2.00" height="15.80" fill="rgb(110,110,110)"/>
<rect x="300.80" y="237.90" width="1.60" height="15.80" fill="rgb(150,150,150)"/>
<rect x="303.90" y="237.90" width="1.60" height="15.80" fill="rgb(150,150,150)"/>
<rect x="306.50" y="237.90" width="1.60" height="15.80" fill="rgb(130,130,130)"/>
<rect x="310.70" y="237.90" width="1.50" height="15.80" fill="rgb(40,40,40)"/>
<rect x="314.30" y="237.90" width="1.60" height="15.80" fill="rgb(130,130,130)"/>
<rect x="318.50" y="237.90" width="3.10" height="15.80" fill="rgb(150,150,150)"/>
<rect x="322.60" y="237.90" width="2.10" height="15.80" fill="rgb(120,120,120)"/>
<rect x="326.20" y="237.90" width="1.60" height="15.80" fill="rgb(140,140,140)"/>
<rect x="329.90" y="237.90" width="1.50" height="15.80" fill="rgb(140,140,140)"/>
<rect x="330.50" y="237.90" width="2.10" height="15.80" fill="rgb(130,130,130)"/>
<rect x="335.20" y="237.90" width="2.10" height="15.80" fill="rgb(100,100,100)"/>
<rect x="341.40" y="237.90" width="1.60" height="15.80" fill="rgb(140,140,140)"/>
<rect x="345.60" y="237.90" width="1.50" height="15.80" fill="rgb(100,100,100)"/>
<rect x="348.70" y="237.90" width="2.10" height="15.80" fill="rgb(130,130,130)"/>
<rect x="351.80" y="237.90" width="1.00" height="15.80" fill="rgb(160,160,160)"/>
<rect x="360.10" y="237.90" width="2.10" height="15.80" fill="rgb(90,90,90)"/>
<rect x="364.30" y="237.90" width="1.50" height="15.80" fill="rgb(90,90,90)"/>
<rect x="367.40" y="237.90" width="2.60" height="15.80" fill="rgb(60,60,60)"/>
<rect x="371.00" y="237.90" width="1.60" height="15.80" fill="rgb(150,150,150)"/>
<rect x="375.20" y="237.90" width="2.00" height="15.80" fill="rgb(140,140,140)"/>
<rect x="378.80" y="237.90" width="2.10" height="15.80" fill="rgb(30,30,30)"/>
<defs><linearGradient id="g3" x1="0" x2="1" y1="0" y2="0"><stop offset="0" stop-color="#d43c50"/><stop offset="0.25" stop-color="#dc5264"/><stop offset="0.29" stop-color="#e07888"/><stop offset="0.37" stop-color="#f0c4d4"/><stop offset="0.42" stop-color="#e8e4f4"/><stop offset="0.58" stop-color="#d0d0ee"/><stop offset="0.65" stop-color="#a8a8dc"/><stop offset="0.72" stop-color="#7070c0"/><stop offset="0.82" stop-color="#404098"/><stop offset="1" stop-color="#282878"/></linearGradient></defs>
<rect x="280.40" y="253.70" width="102.50" height="3.80" fill="url(#g3)"/>
<polyline points="280.60,190.50 281.10,191.42 281.88,191.83 282.65,192.25 283.43,192.45 284.20,193.13 284.98,193.77 285.75,194.20 286.52,194.68 287.30,194.92 288.37,195.72 289.43,196.14 290.50,196.39 291.53,196.65 292.57,196.81 293.60,196.91 294.63,196.69 295.67,196.56 296.70,196.51 297.52,197.06 298.34,197.56 299.16,197.93 299.98,198.43 300.80,198.68 301.85,198.54 302.90,198.57 303.95,199.17 305.00,199.12 305.84,199.72 306.68,200.50 307.52,201.41 308.36,201.59 309.20,202.13 309.99,202.63 310.78,203.13 311.58,203.78 312.37,204.52 313.16,205.12 313.95,206.11 314.75,206.65 315.54,206.57 316.33,206.67 317.12,207.18 317.92,207.67 318.71,208.44 319.50,208.99 320.30,209.57 321.10,209.94 321.90,210.45 322.70,210.93 323.50,211.30 324.30,211.87 325.10,212.00 325.90,212.76 326.70,213.33 327.50,214.34 328.30,214.53 329.10,214.54 329.90,214.92 330.70,215.43 331.50,215.80 332.30,216.12 333.10,216.68 333.90,217.00 334.70,217.90 335.50,218.09 336.30,218.82 337.10,219.53 337.90,220.04 338.70,220.73 339.50,221.13 340.30,221.66 341.17,221.77 342.03,221.93 342.90,222.35 343.77,222.91 344.63,223.59 345.50,223.72 346.37,224.09 347.23,224.45 348.10,225.17 348.97,225.49 349.83,226.20 350.70,226.50 351.47,226.87 352.25,227.30 353.02,227.57 353.80,227.75 354.57,228.49 355.35,229.10 356.12,230.27 356.90,230.83 357.52,231.65 358.14,232.27 358.76,232.86 359.38,233.23 360.00,233.77 361.03,234.23 362.07,234.11 363.10,234.05 364.05,233.91 365.00,233.48 366.15,232.74 367.30,232.47 367.87,231.69 368.43,230.79 369.00,229.97 369.83,229.00 370.67,228.30 371.50,227.59 372.25,226.94 373.00,226.41 373.80,225.07 374.60,224.11 375.30,223.41 376.00,222.28 376.43,221.51 376.85,220.61 377.27,219.78 377.70,219.11 377.93,218.02 378.17,217.43 378.40,216.74 378.63,215.93 378.87,214.66 379.10,213.32 379.33,212.42 379.57,211.65 379.80,210.79 379.95,209.84 380.11,208.93 380.26,207.93 380.42,207.15 380.57,205.88 380.72,205.10 380.88,204.27 381.03,203.18 381.18,203.01 381.34,201.83 381.49,200.74 381.65,199.41 381.80,198.52 381.93,197.66 382.06,196.96 382.19,195.86 382.31,195.16 382.44,193.88 382.57,193.03 382.70,192.20" fill="none" stroke="#3f9c46" stroke-width="1.05" stroke-linejoin="round" stroke-linecap="round"/>
<rect x="280.40" y="189.50" width="102.50" height="68.00" fill="none" stroke="#231f20" stroke-width="0.9"/>
<text x="282.80" y="227.90" font-size="7.04" fill="#231f20" stroke="#231f20" stroke-width="0.17" textLength="34.51" lengthAdjust="spacingAndGlyphs">NES: −2.23</text>
<text x="282.80" y="236.40" font-size="7.04" fill="#231f20" stroke="#231f20" stroke-width="0.17" textLength="48.38" lengthAdjust="spacingAndGlyphs">FDR q-value: 0.0</text>
<text x="281.60" y="267.10" font-size="6.93" fill="#cc3d5a" stroke="#cc3d5a" stroke-width="0.1" textLength="23.11" lengthAdjust="spacingAndGlyphs">Cystine-</text>
<text x="281.60" y="274.90" font-size="6.93" fill="#cc3d5a" stroke="#cc3d5a" stroke-width="0.1" textLength="25.57" lengthAdjust="spacingAndGlyphs">depletion</text>
<text x="281.60" y="282.70" font-size="6.93" fill="#cc3d5a" stroke="#cc3d5a" stroke-width="0.1" textLength="24.51" lengthAdjust="spacingAndGlyphs">sensitive</text>
<text x="383.10" y="267.10" font-size="6.93" text-anchor="end" fill="#3b5f98" stroke="#3b5f98" stroke-width="0.1" textLength="23.11" lengthAdjust="spacingAndGlyphs">Cystine-</text>
<text x="383.10" y="274.90" font-size="6.93" text-anchor="end" fill="#3b5f98" stroke="#3b5f98" stroke-width="0.1" textLength="25.57" lengthAdjust="spacingAndGlyphs">depletion</text>
<text x="383.10" y="282.70" font-size="6.93" text-anchor="end" fill="#3b5f98" stroke="#3b5f98" stroke-width="0.1" textLength="29.42" lengthAdjust="spacingAndGlyphs">insensitive</text>
<text x="461.75" y="173.40" font-size="9.62" text-anchor="middle" fill="#231f20" stroke="#231f20" stroke-width="0.17" textLength="49.00" lengthAdjust="spacingAndGlyphs">Mitochondria</text>
<text x="461.75" y="183.80" font-size="9.62" text-anchor="middle" fill="#231f20" stroke="#231f20" stroke-width="0.17" textLength="77.20" lengthAdjust="spacingAndGlyphs">(Mootha <tspan font-style="italic">et al.</tspan>, 2003)</text>
<rect x="410.80" y="237.90" width="1.70" height="15.80" fill="rgb(150,150,150)"/>
<rect x="413.50" y="237.90" width="2.00" height="15.80" fill="rgb(120,120,120)"/>
<rect x="416.00" y="237.90" width="1.00" height="15.80" fill="rgb(170,170,170)"/>
<rect x="418.00" y="237.90" width="2.00" height="15.80" fill="rgb(110,110,110)"/>
<rect x="420.50" y="237.90" width="1.00" height="15.80" fill="rgb(160,160,160)"/>
<rect x="422.50" y="237.90" width="2.50" height="15.80" fill="rgb(130,130,130)"/>
<rect x="425.50" y="237.90" width="1.00" height="15.80" fill="rgb(170,170,170)"/>
<rect x="427.50" y="237.90" width="2.50" height="15.80" fill="rgb(100,100,100)"/>
<rect x="430.50" y="237.90" width="1.50" height="15.80" fill="rgb(140,140,140)"/>
<rect x="433.00" y="237.90" width="2.00" height="15.80" fill="rgb(120,120,120)"/>
<rect x="436.00" y="237.90" width="1.00" height="15.80" fill="rgb(170,170,170)"/>
<rect x="438.00" y="237.90" width="3.00" height="15.80" fill="rgb(90,90,90)"/>
<rect x="441.50" y="237.90" width="1.00" height="15.80" fill="rgb(150,150,150)"/>
<rect x="443.50" y="237.90" width="2.50" height="15.80" fill="rgb(100,100,100)"/>
<rect x="446.50" y="237.90" width="1.50" height="15.80" fill="rgb(140,140,140)"/>
<rect x="449.00" y="237.90" width="2.00" height="15.80" fill="rgb(110,110,110)"/>
<rect x="452.00" y="237.90" width="2.00" height="15.80" fill="rgb(130,130,130)"/>
<rect x="455.00" y="237.90" width="2.50" height="15.80" fill="rgb(90,90,90)"/>
<rect x="458.00" y="237.90" width="1.00" height="15.80" fill="rgb(150,150,150)"/>
<rect x="460.00" y="237.90" width="2.50" height="15.80" fill="rgb(70,70,70)"/>
<rect x="463.50" y="237.90" width="2.50" height="15.80" fill="rgb(60,60,60)"/>
<rect x="466.50" y="237.90" width="1.50" height="15.80" fill="rgb(110,110,110)"/>
<rect x="468.50" y="237.90" width="1.00" height="15.80" fill="rgb(150,150,150)"/>
<rect x="471.00" y="237.90" width="3.00" height="15.80" fill="rgb(50,50,50)"/>
<rect x="474.50" y="237.90" width="1.50" height="15.80" fill="rgb(120,120,120)"/>
<rect x="477.50" y="237.90" width="2.50" height="15.80" fill="rgb(60,60,60)"/>
<rect x="480.50" y="237.90" width="2.50" height="15.80" fill="rgb(90,90,90)"/>
<rect x="483.50" y="237.90" width="2.50" height="15.80" fill="rgb(50,50,50)"/>
<rect x="486.50" y="237.90" width="1.50" height="15.80" fill="rgb(110,110,110)"/>
<rect x="489.00" y="237.90" width="2.00" height="15.80" fill="rgb(60,60,60)"/>
<rect x="493.00" y="237.90" width="2.00" height="15.80" fill="rgb(80,80,80)"/>
<rect x="495.00" y="237.90" width="4.00" height="15.80" fill="rgb(15,15,15)"/>
<rect x="499.00" y="237.90" width="2.00" height="15.80" fill="rgb(40,40,40)"/>
<rect x="501.00" y="237.90" width="11.90" height="15.80" fill="rgb(10,10,10)"/>
<defs><linearGradient id="g4" x1="0" x2="1" y1="0" y2="0"><stop offset="0" stop-color="#d43c50"/><stop offset="0.25" stop-color="#dc5264"/><stop offset="0.29" stop-color="#e07888"/><stop offset="0.37" stop-color="#f0c4d4"/><stop offset="0.42" stop-color="#e8e4f4"/><stop offset="0.58" stop-color="#d0d0ee"/><stop offset="0.65" stop-color="#a8a8dc"/><stop offset="0.72" stop-color="#7070c0"/><stop offset="0.82" stop-color="#404098"/><stop offset="1" stop-color="#282878"/></linearGradient></defs>
<rect x="410.60" y="253.70" width="102.30" height="3.80" fill="url(#g4)"/>
<polyline points="410.60,191.80 411.55,192.39 412.50,192.58 413.45,192.89 414.40,193.14 415.35,193.42 416.30,193.99 417.19,194.46 418.07,194.92 418.96,195.54 419.84,196.20 420.73,196.71 421.61,197.20 422.50,197.50 423.40,198.00 424.30,198.40 425.20,198.57 426.10,198.87 427.00,199.35 427.90,199.61 428.80,199.92 429.60,200.31 430.40,200.90 431.20,201.27 432.00,201.73 432.80,202.26 433.60,202.83 434.40,203.33 435.20,203.77 436.00,204.18 436.80,204.32 437.60,204.78 438.40,205.36 439.20,205.85 439.99,206.23 440.78,206.77 441.58,207.21 442.37,207.69 443.16,208.13 443.95,208.50 444.75,208.84 445.54,209.26 446.33,209.82 447.12,210.75 447.92,210.94 448.71,211.53 449.50,212.14 450.30,212.67 451.10,213.10 451.90,213.56 452.70,214.04 453.50,214.43 454.30,214.85 455.10,215.34 455.90,215.83 456.70,216.34 457.50,216.71 458.30,217.36 459.10,217.87 459.90,218.25 460.70,218.54 461.50,218.93 462.30,219.45 463.10,219.98 463.90,220.41 464.70,221.06 465.50,221.38 466.30,222.08 467.10,222.33 467.90,222.95 468.70,223.31 469.50,223.65 470.30,224.21 471.10,224.74 471.90,225.27 472.70,225.86 473.50,226.31 474.30,226.67 475.10,227.23 475.90,227.88 476.70,228.41 477.50,228.66 478.30,229.07 479.10,229.54 479.90,230.04 480.70,230.31 481.59,230.73 482.47,231.11 483.36,231.46 484.24,232.19 485.13,232.61 486.01,233.02 486.90,233.47 487.79,233.61 488.67,233.87 489.56,234.11 490.44,234.31 491.33,234.48 492.21,234.74 493.10,234.90 494.15,234.31 495.20,233.82 495.80,233.11 496.40,232.26 497.00,231.53 497.60,230.72 498.20,230.00 498.80,229.34 499.40,228.73 499.91,228.11 500.42,227.31 500.94,226.30 501.45,225.44 501.96,224.38 502.48,223.62 502.99,222.81 503.50,222.14 503.92,221.40 504.34,220.71 504.76,219.88 505.18,218.86 505.60,218.03 506.02,217.50 506.44,216.68 506.86,215.86 507.28,214.99 507.70,213.83 508.01,212.95 508.32,212.07 508.63,211.05 508.94,210.14 509.25,209.37 509.56,208.46 509.87,207.54 510.18,206.56 510.49,205.66 510.80,204.79 510.93,203.88 511.05,202.85 511.18,201.90 511.31,200.87 511.43,200.19 511.56,199.31 511.69,198.56 511.81,197.74 511.94,196.63 512.07,195.73 512.19,194.90 512.32,193.75 512.45,192.96 512.57,192.10 512.70,191.20" fill="none" stroke="#3f9c46" stroke-width="1.05" stroke-linejoin="round" stroke-linecap="round"/>
<rect x="410.60" y="189.50" width="102.30" height="68.00" fill="none" stroke="#231f20" stroke-width="0.9"/>
<text x="413.00" y="227.90" font-size="7.04" fill="#231f20" stroke="#231f20" stroke-width="0.17" textLength="34.51" lengthAdjust="spacingAndGlyphs">NES: −3.09</text>
<text x="413.00" y="236.40" font-size="7.04" fill="#231f20" stroke="#231f20" stroke-width="0.17" textLength="48.38" lengthAdjust="spacingAndGlyphs">FDR q-value: 0.0</text>
<text x="411.80" y="267.10" font-size="6.93" fill="#cc3d5a" stroke="#cc3d5a" stroke-width="0.1" textLength="23.11" lengthAdjust="spacingAndGlyphs">Cystine-</text>
<text x="411.80" y="274.90" font-size="6.93" fill="#cc3d5a" stroke="#cc3d5a" stroke-width="0.1" textLength="25.57" lengthAdjust="spacingAndGlyphs">depletion</text>
<text x="411.80" y="282.70" font-size="6.93" fill="#cc3d5a" stroke="#cc3d5a" stroke-width="0.1" textLength="24.51" lengthAdjust="spacingAndGlyphs">sensitive</text>
<text x="513.10" y="267.10" font-size="6.93" text-anchor="end" fill="#3b5f98" stroke="#3b5f98" stroke-width="0.1" textLength="23.11" lengthAdjust="spacingAndGlyphs">Cystine-</text>
<text x="513.10" y="274.90" font-size="6.93" text-anchor="end" fill="#3b5f98" stroke="#3b5f98" stroke-width="0.1" textLength="25.57" lengthAdjust="spacingAndGlyphs">depletion</text>
<text x="513.10" y="282.70" font-size="6.93" text-anchor="end" fill="#3b5f98" stroke="#3b5f98" stroke-width="0.1" textLength="29.42" lengthAdjust="spacingAndGlyphs">insensitive</text>
<text x="183.70" y="324.50" font-size="9.62" text-anchor="middle" fill="#231f20" stroke="#231f20" stroke-width="0.17" textLength="84.70" lengthAdjust="spacingAndGlyphs">Reactome Respiratory</text>
<text x="183.70" y="334.90" font-size="9.62" text-anchor="middle" fill="#231f20" stroke="#231f20" stroke-width="0.17" textLength="68.80" lengthAdjust="spacingAndGlyphs">Electron Transport</text>
<rect x="137.70" y="389.00" width="1.10" height="15.80" fill="rgb(180,180,180)"/>
<rect x="174.60" y="389.00" width="1.10" height="15.80" fill="rgb(170,170,170)"/>
<rect x="177.20" y="389.00" width="1.00" height="15.80" fill="rgb(160,160,160)"/>
<rect x="179.80" y="389.00" width="1.00" height="15.80" fill="rgb(140,140,140)"/>
<rect x="181.90" y="389.00" width="1.00" height="15.80" fill="rgb(150,150,150)"/>
<rect x="182.90" y="389.00" width="1.10" height="15.80" fill="rgb(150,150,150)"/>
<rect x="186.20" y="389.00" width="1.00" height="15.80" fill="rgb(170,170,170)"/>
<rect x="189.80" y="389.00" width="1.50" height="15.80" fill="rgb(120,120,120)"/>
<rect x="193.40" y="389.00" width="1.60" height="15.80" fill="rgb(130,130,130)"/>
<rect x="196.50" y="389.00" width="1.50" height="15.80" fill="rgb(150,150,150)"/>
<rect x="200.20" y="389.00" width="1.50" height="15.80" fill="rgb(170,170,170)"/>
<rect x="204.30" y="389.00" width="1.10" height="15.80" fill="rgb(170,170,170)"/>
<rect x="208.00" y="389.00" width="1.00" height="15.80" fill="rgb(150,150,150)"/>
<rect x="210.60" y="389.00" width="2.60" height="15.80" fill="rgb(130,130,130)"/>
<rect x="215.20" y="389.00" width="4.20" height="15.80" fill="rgb(90,90,90)"/>
<rect x="220.40" y="389.00" width="2.10" height="15.80" fill="rgb(40,40,40)"/>
<rect x="223.50" y="389.00" width="2.10" height="15.80" fill="rgb(90,90,90)"/>
<rect x="227.70" y="389.00" width="2.10" height="15.80" fill="rgb(70,70,70)"/>
<rect x="231.80" y="389.00" width="2.10" height="15.80" fill="rgb(60,60,60)"/>
<defs><linearGradient id="g5" x1="0" x2="1" y1="0" y2="0"><stop offset="0" stop-color="#d83c50"/><stop offset="0.33" stop-color="#e06070"/><stop offset="0.4" stop-color="#eab8c8"/><stop offset="0.48" stop-color="#e0d8f0"/><stop offset="0.6" stop-color="#c0bce6"/><stop offset="0.72" stop-color="#8080c8"/><stop offset="0.82" stop-color="#404098"/><stop offset="1" stop-color="#282878"/></linearGradient></defs>
<rect x="132.50" y="404.80" width="102.40" height="3.80" fill="url(#g5)"/>
<polyline points="132.60,342.50 133.55,343.07 134.50,343.24 135.45,343.82 136.40,343.58 137.35,344.02 138.30,345.01 139.08,345.37 139.86,345.99 140.64,346.18 141.43,347.06 142.21,347.67 142.99,348.30 143.77,348.49 144.55,349.00 145.33,349.16 146.11,349.77 146.89,349.73 147.68,350.52 148.46,351.22 149.24,351.59 150.02,352.43 150.80,352.76 151.60,353.62 152.40,353.76 153.20,353.97 154.00,354.44 154.80,355.79 155.60,355.54 156.40,355.90 157.20,356.30 158.00,357.01 158.80,357.06 159.60,358.16 160.40,358.04 161.20,359.03 161.99,359.36 162.78,359.56 163.58,360.31 164.37,360.33 165.16,360.95 165.95,361.19 166.75,361.52 167.54,361.91 168.33,362.64 169.12,363.73 169.92,364.04 170.71,364.87 171.50,365.05 172.30,365.70 173.10,366.28 173.90,366.59 174.70,367.21 175.50,367.67 176.30,368.14 177.10,368.10 177.90,368.75 178.70,369.73 179.50,369.58 180.30,370.13 181.10,370.68 181.90,371.25 182.70,371.83 183.50,372.43 184.30,372.68 185.10,373.13 185.90,373.37 186.70,373.55 187.50,374.03 188.30,374.69 189.10,375.26 189.90,375.71 190.70,376.16 191.50,376.98 192.30,377.45 193.10,377.93 193.90,378.92 194.70,379.04 195.50,379.43 196.30,379.94 197.10,379.72 197.90,380.14 198.70,380.73 199.50,381.40 200.30,381.65 201.10,382.15 201.90,382.69 202.70,383.25 203.52,383.44 204.35,384.00 205.18,384.48 206.00,384.49 207.05,383.87 208.10,384.46 209.15,385.12 210.20,385.18 211.13,385.48 212.07,384.71 213.00,384.58 214.20,384.40 215.40,383.73 216.45,383.06 217.50,382.42 218.15,381.60 218.80,380.82 219.13,379.54 219.47,377.97 219.80,377.30 220.00,376.28 220.20,375.42 220.40,373.81 220.60,372.83 220.88,371.62 221.17,370.78 221.45,370.26 221.73,369.54 222.02,368.97 222.30,367.70 222.73,367.23 223.15,366.25 223.57,365.50 224.00,364.68 224.67,363.87 225.33,363.05 226.00,361.71 226.50,360.92 227.00,359.96 227.50,358.91 227.75,357.67 228.00,356.46 228.25,356.15 228.50,354.99 228.73,353.86 228.97,353.14 229.20,351.97 229.62,350.91 230.05,350.25 230.47,349.40 230.90,348.60 231.27,347.83 231.63,346.73 232.00,345.75 232.30,344.65 232.60,343.35 233.45,342.42 234.30,341.60" fill="none" stroke="#3f9c46" stroke-width="1.05" stroke-linejoin="round" stroke-linecap="round"/>
<rect x="132.50" y="340.60" width="102.40" height="68.00" fill="none" stroke="#231f20" stroke-width="0.9"/>
<text x="134.90" y="379.00" font-size="7.04" fill="#231f20" stroke="#231f20" stroke-width="0.17" textLength="34.51" lengthAdjust="spacingAndGlyphs">NES: −2.89</text>
<text x="134.90" y="387.50" font-size="7.04" fill="#231f20" stroke="#231f20" stroke-width="0.17" textLength="48.38" lengthAdjust="spacingAndGlyphs">FDR q-value: 0.0</text>
<text x="133.70" y="418.20" font-size="6.93" fill="#cc3d5a" stroke="#cc3d5a" stroke-width="0.1" textLength="26.97" lengthAdjust="spacingAndGlyphs">Auranofin</text>
<text x="133.70" y="426.00" font-size="6.93" fill="#cc3d5a" stroke="#cc3d5a" stroke-width="0.1" textLength="29.42" lengthAdjust="spacingAndGlyphs">insensitive</text>
<text x="235.10" y="418.20" font-size="6.93" text-anchor="end" fill="#3b5f98" stroke="#3b5f98" stroke-width="0.1" textLength="26.97" lengthAdjust="spacingAndGlyphs">Auranofin</text>
<text x="235.10" y="426.00" font-size="6.93" text-anchor="end" fill="#3b5f98" stroke="#3b5f98" stroke-width="0.1" textLength="24.51" lengthAdjust="spacingAndGlyphs">sensitive</text>
<text x="306.45" y="324.50" font-size="9.62" text-anchor="middle" fill="#231f20" stroke="#231f20" stroke-width="0.17" textLength="45.40" lengthAdjust="spacingAndGlyphs">HALLMARK</text>
<text x="306.45" y="334.90" font-size="9.62" text-anchor="middle" fill="#231f20" stroke="#231f20" stroke-width="0.17" textLength="84.20" lengthAdjust="spacingAndGlyphs">Fatty Acid Metabolism</text>
<rect x="259.20" y="389.00" width="1.00" height="15.80" fill="rgb(200,200,200)"/>
<rect x="263.30" y="389.00" width="2.10" height="15.80" fill="rgb(170,170,170)"/>
<rect x="268.50" y="389.00" width="1.10" height="15.80" fill="rgb(180,180,180)"/>
<rect x="271.10" y="389.00" width="1.60" height="15.80" fill="rgb(80,80,80)"/>
<rect x="274.20" y="389.00" width="1.60" height="15.80" fill="rgb(150,150,150)"/>
<rect x="278.90" y="389.00" width="2.10" height="15.80" fill="rgb(90,90,90)"/>
<rect x="282.00" y="389.00" width="1.60" height="15.80" fill="rgb(150,150,150)"/>
<rect x="286.20" y="389.00" width="1.50" height="15.80" fill="rgb(160,160,160)"/>
<rect x="289.30" y="389.00" width="2.60" height="15.80" fill="rgb(100,100,100)"/>
<rect x="295.00" y="389.00" width="1.60" height="15.80" fill="rgb(70,70,70)"/>
<rect x="298.70" y="389.00" width="1.50" height="15.80" fill="rgb(150,150,150)"/>
<rect x="301.20" y="389.00" width="1.60" height="15.80" fill="rgb(130,130,130)"/>
<rect x="304.90" y="389.00" width="1.50" height="15.80" fill="rgb(100,100,100)"/>
<rect x="306.50" y="389.00" width="1.10" height="15.80" fill="rgb(130,130,130)"/>
<rect x="310.70" y="389.00" width="2.10" height="15.80" fill="rgb(30,30,30)"/>
<rect x="315.40" y="389.00" width="1.50" height="15.80" fill="rgb(170,170,170)"/>
<rect x="319.50" y="389.00" width="1.60" height="15.80" fill="rgb(140,140,140)"/>
<rect x="322.10" y="389.00" width="1.60" height="15.80" fill="rgb(100,100,100)"/>
<rect x="325.80" y="389.00" width="1.50" height="15.80" fill="rgb(160,160,160)"/>
<rect x="329.40" y="389.00" width="2.10" height="15.80" fill="rgb(20,20,20)"/>
<rect x="334.60" y="389.00" width="1.00" height="15.80" fill="rgb(130,130,130)"/>
<rect x="338.20" y="389.00" width="2.60" height="15.80" fill="rgb(90,90,90)"/>
<rect x="341.90" y="389.00" width="1.50" height="15.80" fill="rgb(100,100,100)"/>
<rect x="345.50" y="389.00" width="1.60" height="15.80" fill="rgb(140,140,140)"/>
<rect x="349.70" y="389.00" width="1.50" height="15.80" fill="rgb(150,150,150)"/>
<rect x="352.80" y="389.00" width="1.50" height="15.80" fill="rgb(120,120,120)"/>
<rect x="355.90" y="389.00" width="1.50" height="15.80" fill="rgb(80,80,80)"/>
<defs><linearGradient id="g6" x1="0" x2="1" y1="0" y2="0"><stop offset="0" stop-color="#d83c50"/><stop offset="0.33" stop-color="#e06070"/><stop offset="0.4" stop-color="#eab8c8"/><stop offset="0.48" stop-color="#e0d8f0"/><stop offset="0.6" stop-color="#c0bce6"/><stop offset="0.72" stop-color="#8080c8"/><stop offset="0.82" stop-color="#404098"/><stop offset="1" stop-color="#282878"/></linearGradient></defs>
<rect x="255.50" y="404.80" width="101.90" height="3.80" fill="url(#g6)"/>
<polyline points="255.60,342.50 256.10,342.59 256.88,342.36 257.65,344.22 258.43,344.70 259.20,345.15 260.04,345.43 260.88,346.17 261.72,345.88 262.56,347.00 263.40,348.44 264.17,348.31 264.95,349.08 265.73,349.10 266.50,349.18 267.27,349.96 268.05,350.34 268.83,350.90 269.60,351.71 270.63,351.45 271.67,351.71 272.70,351.62 273.57,351.93 274.43,352.19 275.30,352.15 276.17,352.40 277.03,352.83 277.90,353.18 278.95,353.20 280.00,353.76 281.05,354.50 282.10,353.94 282.88,354.62 283.65,354.67 284.43,354.96 285.20,355.42 285.98,356.19 286.75,356.91 287.53,357.57 288.30,357.96 289.07,358.71 289.85,359.21 290.62,359.30 291.40,359.93 292.18,360.52 292.95,361.33 293.73,362.04 294.50,362.75 295.33,362.52 296.16,363.24 296.99,363.22 297.82,363.17 298.65,363.81 299.48,364.10 300.31,364.38 301.14,364.58 301.97,365.22 302.80,365.45 303.50,365.58 304.20,366.48 304.90,367.18 305.60,367.48 306.30,368.07 307.00,368.87 307.70,369.69 308.40,370.86 309.10,371.66 309.79,372.05 310.48,372.16 311.17,372.87 311.86,373.11 312.54,374.13 313.23,374.61 313.92,375.73 314.61,375.74 315.30,376.79 316.07,377.49 316.85,377.71 317.62,378.89 318.40,379.02 319.18,379.26 319.95,379.67 320.73,379.79 321.50,380.61 322.24,380.90 322.99,381.83 323.73,382.53 324.47,382.54 325.21,383.28 325.96,383.65 326.70,384.23 327.75,384.68 328.80,385.24 329.42,384.85 330.04,383.77 330.66,382.78 331.28,382.13 331.90,381.15 332.95,381.24 334.00,381.71 335.05,382.24 336.10,381.51 337.13,381.11 338.17,381.04 339.20,380.35 339.54,379.59 339.89,377.98 340.23,377.60 340.58,376.33 340.92,375.65 341.27,374.76 341.61,374.15 341.96,373.71 342.30,372.08 342.82,371.21 343.35,370.45 343.88,369.86 344.40,369.02 344.93,368.56 345.45,367.58 345.98,366.58 346.50,365.95 347.27,364.74 348.05,363.78 348.83,363.66 349.60,363.21 350.12,362.03 350.63,361.95 351.15,361.09 351.67,359.74 352.18,359.61 352.70,357.96 353.22,357.09 353.73,356.27 354.25,355.16 354.77,354.52 355.28,353.34 355.80,352.68 356.07,350.61 356.35,350.13 356.62,348.92 356.90,348.40" fill="none" stroke="#3f9c46" stroke-width="1.05" stroke-linejoin="round" stroke-linecap="round"/>
<rect x="255.50" y="340.60" width="101.90" height="68.00" fill="none" stroke="#231f20" stroke-width="0.9"/>
<text x="257.90" y="379.00" font-size="7.04" fill="#231f20" stroke="#231f20" stroke-width="0.17" textLength="34.51" lengthAdjust="spacingAndGlyphs">NES: −1.78</text>
<text x="257.90" y="387.50" font-size="7.04" fill="#231f20" stroke="#231f20" stroke-width="0.17" textLength="48.38" lengthAdjust="spacingAndGlyphs">FDR q-value: 0.0</text>
<text x="256.70" y="418.20" font-size="6.93" fill="#cc3d5a" stroke="#cc3d5a" stroke-width="0.1" textLength="26.97" lengthAdjust="spacingAndGlyphs">Auranofin</text>
<text x="256.70" y="426.00" font-size="6.93" fill="#cc3d5a" stroke="#cc3d5a" stroke-width="0.1" textLength="29.42" lengthAdjust="spacingAndGlyphs">insensitive</text>
<text x="357.60" y="418.20" font-size="6.93" text-anchor="end" fill="#3b5f98" stroke="#3b5f98" stroke-width="0.1" textLength="26.97" lengthAdjust="spacingAndGlyphs">Auranofin</text>
<text x="357.60" y="426.00" font-size="6.93" text-anchor="end" fill="#3b5f98" stroke="#3b5f98" stroke-width="0.1" textLength="24.51" lengthAdjust="spacingAndGlyphs">sensitive</text>
<line x1="62.10" y1="165.50" x2="62.10" y2="271.50" stroke="#231f20" stroke-width="1.1"/>
<line x1="61.60" y1="218.20" x2="196.80" y2="218.20" stroke="#231f20" stroke-width="1.1"/>
<line x1="59.40" y1="168.35" x2="62.10" y2="168.35" stroke="#231f20" stroke-width="1"/>
<text x="56.20" y="170.45" font-size="6.82" text-anchor="end" fill="#231f20" stroke="#231f20" stroke-width="0.17" textLength="3.45" lengthAdjust="spacingAndGlyphs">1</text>
<line x1="59.40" y1="178.33" x2="62.10" y2="178.33" stroke="#231f20" stroke-width="1"/>
<text x="56.20" y="180.43" font-size="6.82" text-anchor="end" fill="#231f20" stroke="#231f20" stroke-width="0.17" textLength="8.62" lengthAdjust="spacingAndGlyphs">0.8</text>
<line x1="59.40" y1="188.31" x2="62.10" y2="188.31" stroke="#231f20" stroke-width="1"/>
<text x="56.20" y="190.41" font-size="6.82" text-anchor="end" fill="#231f20" stroke="#231f20" stroke-width="0.17" textLength="8.62" lengthAdjust="spacingAndGlyphs">0.6</text>
<line x1="59.40" y1="198.29" x2="62.10" y2="198.29" stroke="#231f20" stroke-width="1"/>
<text x="56.20" y="200.39" font-size="6.82" text-anchor="end" fill="#231f20" stroke="#231f20" stroke-width="0.17" textLength="8.62" lengthAdjust="spacingAndGlyphs">0.4</text>
<line x1="59.40" y1="208.27" x2="62.10" y2="208.27" stroke="#231f20" stroke-width="1"/>
<text x="56.20" y="210.37" font-size="6.82" text-anchor="end" fill="#231f20" stroke="#231f20" stroke-width="0.17" textLength="8.62" lengthAdjust="spacingAndGlyphs">0.2</text>
<line x1="59.40" y1="218.25" x2="62.10" y2="218.25" stroke="#231f20" stroke-width="1"/>
<text x="56.20" y="220.35" font-size="6.82" text-anchor="end" fill="#231f20" stroke="#231f20" stroke-width="0.17" textLength="3.45" lengthAdjust="spacingAndGlyphs">0</text>
<line x1="59.40" y1="228.23" x2="62.10" y2="228.23" stroke="#231f20" stroke-width="1"/>
<text x="56.20" y="230.33" font-size="6.82" text-anchor="end" fill="#231f20" stroke="#231f20" stroke-width="0.17" textLength="12.24" lengthAdjust="spacingAndGlyphs">−0.2</text>
<line x1="59.40" y1="238.21" x2="62.10" y2="238.21" stroke="#231f20" stroke-width="1"/>
<text x="56.20" y="240.31" font-size="6.82" text-anchor="end" fill="#231f20" stroke="#231f20" stroke-width="0.17" textLength="12.24" lengthAdjust="spacingAndGlyphs">−0.4</text>
<line x1="59.40" y1="248.19" x2="62.10" y2="248.19" stroke="#231f20" stroke-width="1"/>
<text x="56.20" y="250.29" font-size="6.82" text-anchor="end" fill="#231f20" stroke="#231f20" stroke-width="0.17" textLength="12.24" lengthAdjust="spacingAndGlyphs">−0.6</text>
<line x1="59.40" y1="258.17" x2="62.10" y2="258.17" stroke="#231f20" stroke-width="1"/>
<text x="56.20" y="260.27" font-size="6.82" text-anchor="end" fill="#231f20" stroke="#231f20" stroke-width="0.17" textLength="12.24" lengthAdjust="spacingAndGlyphs">−0.8</text>
<line x1="59.40" y1="268.15" x2="62.10" y2="268.15" stroke="#231f20" stroke-width="1"/>
<text x="56.20" y="270.25" font-size="6.82" text-anchor="end" fill="#231f20" stroke="#231f20" stroke-width="0.17" textLength="7.07" lengthAdjust="spacingAndGlyphs">−1</text>
<line x1="94.75" y1="218.20" x2="94.75" y2="220.60" stroke="#231f20" stroke-width="1"/>
<text x="94.75" y="230.40" font-size="7.04" text-anchor="middle" fill="#231f20" stroke="#231f20" stroke-width="0.17" textLength="14.24" lengthAdjust="spacingAndGlyphs">2000</text>
<line x1="127.70" y1="218.20" x2="127.70" y2="220.60" stroke="#231f20" stroke-width="1"/>
<text x="127.70" y="230.40" font-size="7.04" text-anchor="middle" fill="#231f20" stroke="#231f20" stroke-width="0.17" textLength="14.24" lengthAdjust="spacingAndGlyphs">4000</text>
<line x1="160.65" y1="218.20" x2="160.65" y2="220.60" stroke="#231f20" stroke-width="1"/>
<text x="160.65" y="230.40" font-size="7.04" text-anchor="middle" fill="#231f20" stroke="#231f20" stroke-width="0.17" textLength="14.24" lengthAdjust="spacingAndGlyphs">6000</text>
<line x1="193.60" y1="218.20" x2="193.60" y2="220.60" stroke="#231f20" stroke-width="1"/>
<text x="193.60" y="230.40" font-size="7.04" text-anchor="middle" fill="#231f20" stroke="#231f20" stroke-width="0.17" textLength="14.24" lengthAdjust="spacingAndGlyphs">8000</text>
<text x="129.60" y="282.20" font-size="8.60" text-anchor="middle" fill="#231f20" stroke="#231f20" stroke-width="0.3" textLength="19.20" lengthAdjust="spacingAndGlyphs">Protein</text>
<text transform="translate(26.6,217.6) rotate(-90)" font-size="8.3" text-anchor="middle" fill="#231f20" stroke="#231f20" stroke-width="0.25" textLength="99.5" lengthAdjust="spacingAndGlyphs">Pearson correlation cystine depletion</text>
<text transform="translate(36.7,217.6) rotate(-90)" font-size="8.3" text-anchor="middle" fill="#231f20" stroke="#231f20" stroke-width="0.25" textLength="99.5" lengthAdjust="spacingAndGlyphs">sensitivity vs LFQ2020 UMCG proteome</text>
<polyline points="62.40,176.00 62.70,182.00 63.20,188.00 63.90,192.50 65.00,195.20 67.00,197.50 69.20,198.90 75.00,202.30 81.90,205.40 90.00,208.80 100.00,212.80 107.00,215.40 114.60,218.20 125.00,221.20 130.00,222.90 140.00,225.60 152.00,229.60 159.40,232.20 166.70,235.80 174.00,240.20 179.90,244.60 184.30,249.40 186.50,253.50 188.00,259.50 188.70,267.20" fill="none" stroke="#3a62bd" stroke-width="2.1" stroke-linejoin="round" stroke-linecap="round"/>
<ellipse cx="188.1" cy="259.8" rx="4.9" ry="10.3" fill="none" stroke="#2a2a3a" stroke-width="0.8"/>
<line x1="185.60" y1="249.20" x2="178.00" y2="215.50" stroke="#231f20" stroke-width="0.8"/>
<polygon points="177.2,212.3 175.5,217.2 179.7,216.3" fill="#231f20"/>
<text x="162.20" y="173.50" font-size="6.93" font-style="italic" fill="#231f20" stroke="#231f20" stroke-width="0.17" textLength="21.01" lengthAdjust="spacingAndGlyphs">PRDX2</text>
<text x="162.20" y="179.55" font-size="6.93" font-style="italic" fill="#231f20" stroke="#231f20" stroke-width="0.17" textLength="14.35" lengthAdjust="spacingAndGlyphs">IDH2</text>
<text x="162.20" y="185.60" font-size="6.93" font-style="italic" fill="#231f20" stroke="#231f20" stroke-width="0.17" textLength="23.10" lengthAdjust="spacingAndGlyphs">DHODH</text>
<text x="162.20" y="191.65" font-size="6.93" font-style="italic" fill="#231f20" stroke="#231f20" stroke-width="0.17" textLength="25.20" lengthAdjust="spacingAndGlyphs">TXNRD1</text>
<text x="162.20" y="197.70" font-size="6.93" font-style="italic" fill="#231f20" stroke="#231f20" stroke-width="0.17" textLength="17.15" lengthAdjust="spacingAndGlyphs">GOT2</text>
<text x="162.20" y="203.75" font-size="6.93" font-style="italic" fill="#231f20" stroke="#231f20" stroke-width="0.17" textLength="21.70" lengthAdjust="spacingAndGlyphs">MGST2</text>
<text x="162.20" y="209.80" font-size="6.93" font-style="italic" fill="#231f20" stroke="#231f20" stroke-width="0.17" textLength="16.81" lengthAdjust="spacingAndGlyphs">GPX4</text>
<rect x="49.9" y="328.1" width="16.40" height="90.50" fill="#f7cad0"/>
<rect x="66.0" y="328.10" width="17.80" height="9.75" fill="#86a8dc"/>
<rect x="83.5" y="328.10" width="17.60" height="9.75" fill="#4f7ec9"/>
<rect x="66.0" y="337.15" width="17.80" height="9.75" fill="#f3f6fb"/>
<rect x="83.5" y="337.15" width="17.60" height="9.75" fill="#5d88cf"/>
<rect x="66.0" y="346.20" width="17.80" height="9.75" fill="#dde7f5"/>
<rect x="83.5" y="346.20" width="17.60" height="9.75" fill="#6089cf"/>
<rect x="66.0" y="355.25" width="17.80" height="9.75" fill="#dde7f5"/>
<rect x="83.5" y="355.25" width="17.60" height="9.75" fill="#6a90d2"/>
<rect x="66.0" y="364.30" width="17.80" height="9.75" fill="#cfdcf1"/>
<rect x="83.5" y="364.30" width="17.60" height="9.75" fill="#8fadde"/>
<rect x="66.0" y="373.35" width="17.80" height="9.75" fill="#ebf0f9"/>
<rect x="83.5" y="373.35" width="17.60" height="9.75" fill="#dbe4f4"/>
<rect x="66.0" y="382.40" width="17.80" height="9.75" fill="#ffffff"/>
<rect x="83.5" y="382.40" width="17.60" height="9.75" fill="#e4ebf6"/>
<rect x="66.0" y="391.45" width="17.80" height="9.75" fill="#e0545c"/>
<rect x="83.5" y="391.45" width="17.60" height="9.75" fill="#eef2fa"/>
<rect x="66.0" y="400.50" width="17.80" height="9.75" fill="#f0f4fa"/>
<rect x="83.5" y="400.50" width="17.60" height="9.75" fill="#f5c2c8"/>
<rect x="66.0" y="409.55" width="17.80" height="9.05" fill="#f8d9dd"/>
<rect x="83.5" y="409.55" width="17.60" height="9.05" fill="#f3b6bd"/>
<text x="19.20" y="334.80" font-size="7.43" fill="#231f20" stroke="#231f20" stroke-width="0.17" textLength="23.01" lengthAdjust="spacingAndGlyphs">AML #7</text>
<text x="58.10" y="334.80" font-size="7.04" text-anchor="middle" fill="#231f20" stroke="#231f20" stroke-width="0.17" textLength="3.56" lengthAdjust="spacingAndGlyphs">1</text>
<text x="75.40" y="334.80" font-size="7.04" text-anchor="middle" fill="#231f20" stroke="#231f20" stroke-width="0.17" textLength="12.46" lengthAdjust="spacingAndGlyphs">0.56</text>
<text x="92.50" y="334.80" font-size="7.04" text-anchor="middle" fill="#231f20" stroke="#231f20" stroke-width="0.17" textLength="12.46" lengthAdjust="spacingAndGlyphs">0.36</text>
<text x="19.20" y="343.85" font-size="7.43" fill="#231f20" stroke="#231f20" stroke-width="0.17" textLength="26.77" lengthAdjust="spacingAndGlyphs">AML #12</text>
<text x="58.10" y="343.85" font-size="7.04" text-anchor="middle" fill="#231f20" stroke="#231f20" stroke-width="0.17" textLength="3.56" lengthAdjust="spacingAndGlyphs">1</text>
<text x="75.40" y="343.85" font-size="7.04" text-anchor="middle" fill="#231f20" stroke="#231f20" stroke-width="0.17" textLength="12.46" lengthAdjust="spacingAndGlyphs">0.87</text>
<text x="92.50" y="343.85" font-size="7.04" text-anchor="middle" fill="#231f20" stroke="#231f20" stroke-width="0.17" textLength="12.46" lengthAdjust="spacingAndGlyphs">0.45</text>
<text x="19.20" y="352.90" font-size="7.43" fill="#231f20" stroke="#231f20" stroke-width="0.17" textLength="23.01" lengthAdjust="spacingAndGlyphs">AML #5</text>
<text x="58.10" y="352.90" font-size="7.04" text-anchor="middle" fill="#231f20" stroke="#231f20" stroke-width="0.17" textLength="3.56" lengthAdjust="spacingAndGlyphs">1</text>
<text x="75.40" y="352.90" font-size="7.04" text-anchor="middle" fill="#231f20" stroke="#231f20" stroke-width="0.17" textLength="12.46" lengthAdjust="spacingAndGlyphs">0.82</text>
<text x="92.50" y="352.90" font-size="7.04" text-anchor="middle" fill="#231f20" stroke="#231f20" stroke-width="0.17" textLength="12.46" lengthAdjust="spacingAndGlyphs">0.46</text>
<text x="19.20" y="361.95" font-size="7.43" fill="#231f20" stroke="#231f20" stroke-width="0.17" textLength="23.01" lengthAdjust="spacingAndGlyphs">AML #8</text>
<text x="58.10" y="361.95" font-size="7.04" text-anchor="middle" fill="#231f20" stroke="#231f20" stroke-width="0.17" textLength="3.56" lengthAdjust="spacingAndGlyphs">1</text>
<text x="75.40" y="361.95" font-size="7.04" text-anchor="middle" fill="#231f20" stroke="#231f20" stroke-width="0.17" textLength="12.46" lengthAdjust="spacingAndGlyphs">0.82</text>
<text x="92.50" y="361.95" font-size="7.04" text-anchor="middle" fill="#231f20" stroke="#231f20" stroke-width="0.17" textLength="12.46" lengthAdjust="spacingAndGlyphs">0.50</text>
<text x="19.20" y="371.00" font-size="7.43" fill="#231f20" stroke="#231f20" stroke-width="0.17" textLength="26.27" lengthAdjust="spacingAndGlyphs">AML #11</text>
<text x="58.10" y="371.00" font-size="7.04" text-anchor="middle" fill="#231f20" stroke="#231f20" stroke-width="0.17" textLength="3.56" lengthAdjust="spacingAndGlyphs">1</text>
<text x="75.40" y="371.00" font-size="7.04" text-anchor="middle" fill="#231f20" stroke="#231f20" stroke-width="0.17" textLength="12.46" lengthAdjust="spacingAndGlyphs">0.79</text>
<text x="92.50" y="371.00" font-size="7.04" text-anchor="middle" fill="#231f20" stroke="#231f20" stroke-width="0.17" textLength="12.46" lengthAdjust="spacingAndGlyphs">0.63</text>
<text x="19.20" y="380.05" font-size="7.43" fill="#231f20" stroke="#231f20" stroke-width="0.17" textLength="23.01" lengthAdjust="spacingAndGlyphs">AML #1</text>
<text x="58.10" y="380.05" font-size="7.04" text-anchor="middle" fill="#231f20" stroke="#231f20" stroke-width="0.17" textLength="3.56" lengthAdjust="spacingAndGlyphs">1</text>
<text x="75.40" y="380.05" font-size="7.04" text-anchor="middle" fill="#231f20" stroke="#231f20" stroke-width="0.17" textLength="12.46" lengthAdjust="spacingAndGlyphs">0.85</text>
<text x="92.50" y="380.05" font-size="7.04" text-anchor="middle" fill="#231f20" stroke="#231f20" stroke-width="0.17" textLength="12.46" lengthAdjust="spacingAndGlyphs">0.81</text>
<text x="19.20" y="389.10" font-size="7.43" fill="#231f20" stroke="#231f20" stroke-width="0.17" textLength="26.77" lengthAdjust="spacingAndGlyphs">AML #10</text>
<text x="58.10" y="389.10" font-size="7.04" text-anchor="middle" fill="#231f20" stroke="#231f20" stroke-width="0.17" textLength="3.56" lengthAdjust="spacingAndGlyphs">1</text>
<text x="75.40" y="389.10" font-size="7.04" text-anchor="middle" fill="#231f20" stroke="#231f20" stroke-width="0.17" textLength="12.46" lengthAdjust="spacingAndGlyphs">0.94</text>
<text x="92.50" y="389.10" font-size="7.04" text-anchor="middle" fill="#231f20" stroke="#231f20" stroke-width="0.17" textLength="12.46" lengthAdjust="spacingAndGlyphs">0.83</text>
<text x="19.20" y="398.15" font-size="7.43" fill="#231f20" stroke="#231f20" stroke-width="0.17" textLength="26.77" lengthAdjust="spacingAndGlyphs">AML #13</text>
<text x="58.10" y="398.15" font-size="7.04" text-anchor="middle" fill="#231f20" stroke="#231f20" stroke-width="0.17" textLength="3.56" lengthAdjust="spacingAndGlyphs">1</text>
<text x="75.40" y="398.15" font-size="7.04" text-anchor="middle" fill="#231f20" stroke="#231f20" stroke-width="0.17" textLength="12.46" lengthAdjust="spacingAndGlyphs">1.22</text>
<text x="92.50" y="398.15" font-size="7.04" text-anchor="middle" fill="#231f20" stroke="#231f20" stroke-width="0.17" textLength="12.46" lengthAdjust="spacingAndGlyphs">0.85</text>
<text x="19.20" y="407.20" font-size="7.43" fill="#231f20" stroke="#231f20" stroke-width="0.17" textLength="23.01" lengthAdjust="spacingAndGlyphs">AML #6</text>
<text x="58.10" y="407.20" font-size="7.04" text-anchor="middle" fill="#231f20" stroke="#231f20" stroke-width="0.17" textLength="3.56" lengthAdjust="spacingAndGlyphs">1</text>
<text x="75.40" y="407.20" font-size="7.04" text-anchor="middle" fill="#231f20" stroke="#231f20" stroke-width="0.17" textLength="12.46" lengthAdjust="spacingAndGlyphs">0.86</text>
<text x="92.50" y="407.20" font-size="7.04" text-anchor="middle" fill="#231f20" stroke="#231f20" stroke-width="0.17" textLength="12.46" lengthAdjust="spacingAndGlyphs">1.06</text>
<text x="19.20" y="416.25" font-size="7.43" fill="#231f20" stroke="#231f20" stroke-width="0.17" textLength="26.77" lengthAdjust="spacingAndGlyphs">AML #15</text>
<text x="58.10" y="416.25" font-size="7.04" text-anchor="middle" fill="#231f20" stroke="#231f20" stroke-width="0.17" textLength="3.56" lengthAdjust="spacingAndGlyphs">1</text>
<text x="75.40" y="416.25" font-size="7.04" text-anchor="middle" fill="#231f20" stroke="#231f20" stroke-width="0.17" textLength="12.46" lengthAdjust="spacingAndGlyphs">1.00</text>
<text x="92.50" y="416.25" font-size="7.04" text-anchor="middle" fill="#231f20" stroke="#231f20" stroke-width="0.17" textLength="12.46" lengthAdjust="spacingAndGlyphs">1.08</text>
<text transform="translate(60.70,320.8) rotate(-90)" font-size="6.6" text-anchor="middle" fill="#231f20" stroke="#231f20" stroke-width="0.12">d0</text>
<text transform="translate(77.30,320.8) rotate(-90)" font-size="6.6" text-anchor="middle" fill="#231f20" stroke="#231f20" stroke-width="0.12">d1</text>
<text transform="translate(93.80,320.8) rotate(-90)" font-size="6.6" text-anchor="middle" fill="#231f20" stroke="#231f20" stroke-width="0.12">d4</text>
<rect x="418.5" y="320.5" width="89.00" height="89.00" fill="none" stroke="#231f20" stroke-width="1"/>
<line x1="415.40" y1="320.50" x2="418.50" y2="320.50" stroke="#231f20" stroke-width="1"/>
<text x="412.40" y="322.70" font-size="7.04" text-anchor="end" fill="#231f20" stroke="#231f20" stroke-width="0.17" textLength="8.90" lengthAdjust="spacingAndGlyphs">1.1</text>
<line x1="415.40" y1="345.85" x2="418.50" y2="345.85" stroke="#231f20" stroke-width="1"/>
<text x="412.40" y="348.05" font-size="7.04" text-anchor="end" fill="#231f20" stroke="#231f20" stroke-width="0.17" textLength="8.90" lengthAdjust="spacingAndGlyphs">1.0</text>
<line x1="415.40" y1="371.20" x2="418.50" y2="371.20" stroke="#231f20" stroke-width="1"/>
<text x="412.40" y="373.40" font-size="7.04" text-anchor="end" fill="#231f20" stroke="#231f20" stroke-width="0.17" textLength="8.90" lengthAdjust="spacingAndGlyphs">0.9</text>
<line x1="415.40" y1="396.55" x2="418.50" y2="396.55" stroke="#231f20" stroke-width="1"/>
<text x="412.40" y="398.75" font-size="7.04" text-anchor="end" fill="#231f20" stroke="#231f20" stroke-width="0.17" textLength="8.90" lengthAdjust="spacingAndGlyphs">0.8</text>
<line x1="418.40" y1="409.50" x2="418.40" y2="411.90" stroke="#231f20" stroke-width="1"/>
<text x="418.40" y="421.30" font-size="7.04" text-anchor="middle" fill="#231f20" stroke="#231f20" stroke-width="0.17" textLength="3.56" lengthAdjust="spacingAndGlyphs">0</text>
<line x1="440.62" y1="409.50" x2="440.62" y2="411.90" stroke="#231f20" stroke-width="1"/>
<text x="440.62" y="421.30" font-size="7.04" text-anchor="middle" fill="#231f20" stroke="#231f20" stroke-width="0.17" textLength="7.12" lengthAdjust="spacingAndGlyphs">50</text>
<line x1="462.85" y1="409.50" x2="462.85" y2="411.90" stroke="#231f20" stroke-width="1"/>
<text x="462.85" y="421.30" font-size="7.04" text-anchor="middle" fill="#231f20" stroke="#231f20" stroke-width="0.17" textLength="10.68" lengthAdjust="spacingAndGlyphs">100</text>
<line x1="485.07" y1="409.50" x2="485.07" y2="411.90" stroke="#231f20" stroke-width="1"/>
<text x="485.07" y="421.30" font-size="7.04" text-anchor="middle" fill="#231f20" stroke="#231f20" stroke-width="0.17" textLength="10.68" lengthAdjust="spacingAndGlyphs">150</text>
<line x1="507.30" y1="409.50" x2="507.30" y2="411.90" stroke="#231f20" stroke-width="1"/>
<text x="507.30" y="421.30" font-size="7.04" text-anchor="middle" fill="#231f20" stroke="#231f20" stroke-width="0.17" textLength="10.68" lengthAdjust="spacingAndGlyphs">200</text>
<text x="462.90" y="433.50" font-size="8.30" text-anchor="middle" fill="#231f20" stroke="#231f20" stroke-width="0.35" textLength="28.20" lengthAdjust="spacingAndGlyphs">Basal OCR</text>
<text transform="translate(398.4,364.4) rotate(-90)" font-size="7.4" text-anchor="middle" fill="#231f20" stroke="#231f20" stroke-width="0.28" textLength="80.2" lengthAdjust="spacingAndGlyphs">Auranofin sensitivity (viability)</text>
<text x="421.6" y="328.1" font-size="7.15" fill="#231f20" stroke="#231f20" stroke-width="0.17" textLength="24.5" lengthAdjust="spacingAndGlyphs"><tspan font-style="italic">r</tspan> = 0.76</text>
<text x="421.6" y="334.9" font-size="7.15" fill="#231f20" stroke="#231f20" stroke-width="0.17" textLength="25.5" lengthAdjust="spacingAndGlyphs"><tspan font-style="italic">P</tspan> = .057</text>
<polyline points="432.30,367.60 440.00,366.50 447.00,362.00 455.00,355.00 462.00,346.00 470.00,337.00 478.00,330.00 487.30,323.00" fill="none" stroke="#3a3a3a" stroke-width="0.85" stroke-linejoin="round" stroke-linecap="butt" stroke-dasharray="0.8,1.3"/>
<polyline points="434.60,407.30 440.00,400.00 447.00,394.50 455.00,391.00 464.60,390.00 475.00,390.50 485.00,392.50 494.60,395.00" fill="none" stroke="#3a3a3a" stroke-width="0.85" stroke-linejoin="round" stroke-linecap="butt" stroke-dasharray="0.8,1.3"/>
<line x1="432.30" y1="388.80" x2="494.20" y2="353.90" stroke="#231f20" stroke-width="1.1"/>
<circle cx="433" cy="391.2" r="3.6" fill="#8b86c4" stroke="#3d3a75" stroke-width="0.6"/>
<circle cx="435.8" cy="398.8" r="3.6" fill="#8b86c4" stroke="#3d3a75" stroke-width="0.6"/>
<circle cx="440.4" cy="383" r="3.6" fill="#8b86c4" stroke="#3d3a75" stroke-width="0.6"/>
<circle cx="441.5" cy="381.5" r="3.6" fill="#8b86c4" stroke="#3d3a75" stroke-width="0.6"/>
<circle cx="446.2" cy="391.2" r="3.6" fill="#8b86c4" stroke="#3d3a75" stroke-width="0.6"/>
<circle cx="452" cy="345.7" r="3.6" fill="#8b86c4" stroke="#3d3a75" stroke-width="0.6"/>
<circle cx="494.7" cy="361.1" r="3.6" fill="#8b86c4" stroke="#3d3a75" stroke-width="0.6"/>
</svg>
</body></html>
